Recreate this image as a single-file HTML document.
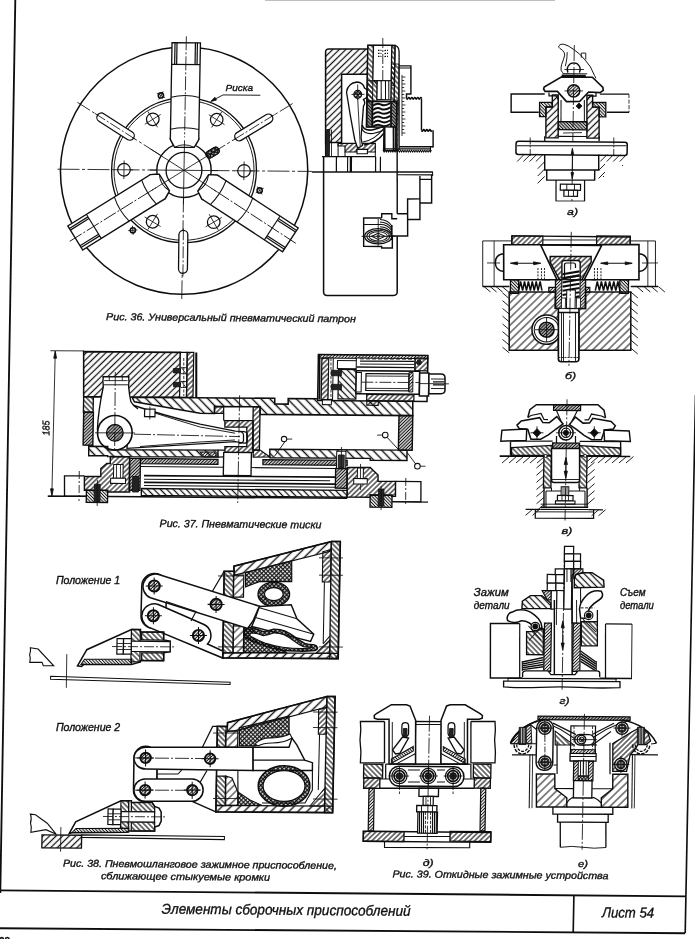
<!DOCTYPE html>
<html><head><meta charset="utf-8"><title>Лист 54</title>
<style>html,body{margin:0;padding:0;background:#fff}body{width:695px;height:939px;overflow:hidden}svg{display:block;font-family:"Liberation Sans",sans-serif;filter:url(#blur)}text{fill:#111;stroke:#111;stroke-width:0.35px}</style>
</head><body>
<svg width="695" height="939" viewBox="0 0 695 939">
<filter id="blur" x="0" y="0" width="100%" height="100%"><feGaussianBlur stdDeviation="0.42"/></filter>
<rect width="695" height="939" fill="#fff"/>
<defs>
<pattern id="h6" width="6.3" height="6.3" patternUnits="userSpaceOnUse" patternTransform="rotate(-45)"><line x1="0" y1="3.15" x2="6.3" y2="3.15" stroke="#111" stroke-width="1.4"/></pattern>
<pattern id="h6b" width="6.3" height="6.3" patternUnits="userSpaceOnUse" patternTransform="rotate(45)"><line x1="0" y1="3.15" x2="6.3" y2="3.15" stroke="#111" stroke-width="1.4"/></pattern>
<pattern id="h5" width="5.4" height="5.4" patternUnits="userSpaceOnUse" patternTransform="rotate(-45)"><line x1="0" y1="2.7" x2="5.4" y2="2.7" stroke="#111" stroke-width="1.0"/></pattern>
<pattern id="h5b" width="5.4" height="5.4" patternUnits="userSpaceOnUse" patternTransform="rotate(45)"><line x1="0" y1="2.7" x2="5.4" y2="2.7" stroke="#111" stroke-width="1.0"/></pattern>
<pattern id="h4" width="4.6" height="4.6" patternUnits="userSpaceOnUse" patternTransform="rotate(-45)"><line x1="0" y1="2.3" x2="4.6" y2="2.3" stroke="#111" stroke-width="1.25"/></pattern>
<pattern id="h4b" width="4.6" height="4.6" patternUnits="userSpaceOnUse" patternTransform="rotate(45)"><line x1="0" y1="2.3" x2="4.6" y2="2.3" stroke="#111" stroke-width="1.25"/></pattern>
<pattern id="h3" width="3.6" height="3.6" patternUnits="userSpaceOnUse" patternTransform="rotate(-45)"><line x1="0" y1="1.8" x2="3.6" y2="1.8" stroke="#111" stroke-width="1.15"/></pattern>
<pattern id="h3b" width="3.6" height="3.6" patternUnits="userSpaceOnUse" patternTransform="rotate(45)"><line x1="0" y1="1.8" x2="3.6" y2="1.8" stroke="#111" stroke-width="1.15"/></pattern>
<pattern id="h2" width="2.3" height="2.3" patternUnits="userSpaceOnUse" patternTransform="rotate(-45)"><line x1="0" y1="1.15" x2="2.3" y2="1.15" stroke="#111" stroke-width="1.0"/></pattern>
<pattern id="h2b" width="2.3" height="2.3" patternUnits="userSpaceOnUse" patternTransform="rotate(45)"><line x1="0" y1="1.15" x2="2.3" y2="1.15" stroke="#111" stroke-width="1.0"/></pattern>
<pattern id="xh" width="3" height="3" patternUnits="userSpaceOnUse" patternTransform="rotate(45)"><path d="M0 1.5H3M1.5 0V3" stroke="#111" stroke-width="1.3"/></pattern>
</defs>
<line x1="15.3" y1="0.0" x2="0.3" y2="893.0" stroke="#111" stroke-width="1.85"/>
<line x1="695.5" y1="395.0" x2="685.2" y2="933.0" stroke="#111" stroke-width="1.65"/>
<line x1="0.0" y1="890.3" x2="686.0" y2="896.3" stroke="#111" stroke-width="1.85"/>
<line x1="0.0" y1="928.2" x2="685.2" y2="933.2" stroke="#111" stroke-width="1.85"/>
<line x1="573.9" y1="895.3" x2="573.2" y2="932.4" stroke="#111" stroke-width="1.65"/>
<line x1="265.0" y1="0.4" x2="555.0" y2="0.4" stroke="#aaa" stroke-width="0.85"/>
<text x="161.6" y="913.7" font-size="14.5" font-style="italic" font-weight="normal" text-anchor="start" textLength="249.0" lengthAdjust="spacingAndGlyphs" transform="rotate(0.5 161.6 913.7)">Элементы  сборочных  приспособлений</text>
<text x="602.0" y="917.3" font-size="14.5" font-style="italic" font-weight="normal" text-anchor="start" textLength="52.0" lengthAdjust="spacingAndGlyphs" transform="rotate(0.5 602.0 917.3)">Лист 54</text>
<text x="-1.0" y="944.5" font-size="10" font-style="normal" font-weight="bold" text-anchor="start">28</text>
<text x="106.1" y="320.1" font-size="10" font-style="italic" font-weight="normal" text-anchor="start" textLength="249.8" lengthAdjust="spacingAndGlyphs" transform="rotate(0.5 106.1 320.1)">Рис. 36.  Универсальный  пневматический  патрон</text>
<text x="159.6" y="527.0" font-size="10.5" font-style="italic" font-weight="normal" text-anchor="start" textLength="161.7" lengthAdjust="spacingAndGlyphs" transform="rotate(0.5 159.6 527.0)">Рис. 37.  Пневматические  тиски</text>
<text x="62.9" y="866.6" font-size="10" font-style="italic" font-weight="normal" text-anchor="start" textLength="274.0" lengthAdjust="spacingAndGlyphs" transform="rotate(0.5 62.9 866.6)">Рис. 38.  Пневмошланговое  зажимное  приспособление,</text>
<text x="100.9" y="879.3" font-size="10" font-style="italic" font-weight="normal" text-anchor="start" textLength="169.2" lengthAdjust="spacingAndGlyphs" transform="rotate(0.5 100.9 879.3)">сближающее  стыкуемые  кромки</text>
<text x="392.4" y="877.3" font-size="10" font-style="italic" font-weight="normal" text-anchor="start" textLength="216.0" lengthAdjust="spacingAndGlyphs" transform="rotate(0.5 392.4 877.3)">Рис. 39.  Откидные  зажимные  устройства</text>
<text x="422.7" y="865.5" font-size="9.6" font-style="italic" font-weight="normal" text-anchor="start" textLength="11.0" lengthAdjust="spacingAndGlyphs">д)</text>
<text x="578.0" y="866.6" font-size="9.6" font-style="italic" font-weight="normal" text-anchor="start" textLength="10.0" lengthAdjust="spacingAndGlyphs">е)</text>
<text x="559.6" y="703.7" font-size="9.6" font-style="italic" font-weight="normal" text-anchor="start" textLength="10.0" lengthAdjust="spacingAndGlyphs">г)</text>
<text x="567.0" y="214.8" font-size="9.6" font-style="italic" font-weight="normal" text-anchor="start" textLength="11.0" lengthAdjust="spacingAndGlyphs">а)</text>
<text x="565.0" y="378.6" font-size="9.6" font-style="italic" font-weight="normal" text-anchor="start" textLength="11.0" lengthAdjust="spacingAndGlyphs">б)</text>
<text x="561.4" y="533.6" font-size="9.6" font-style="italic" font-weight="normal" text-anchor="start" textLength="11.0" lengthAdjust="spacingAndGlyphs">в)</text>
<text x="55.9" y="584.4" font-size="10" font-style="italic" font-weight="normal" text-anchor="start" textLength="64.3" lengthAdjust="spacingAndGlyphs">Положение 1</text>
<text x="55.9" y="731.0" font-size="10" font-style="italic" font-weight="normal" text-anchor="start" textLength="64.3" lengthAdjust="spacingAndGlyphs">Положение 2</text>
<text x="473.8" y="596.4" font-size="10" font-style="italic" font-weight="normal" text-anchor="start" textLength="34.8" lengthAdjust="spacingAndGlyphs">Зажим</text>
<text x="473.8" y="609.2" font-size="10" font-style="italic" font-weight="normal" text-anchor="start" textLength="35.8" lengthAdjust="spacingAndGlyphs">детали</text>
<text x="619.9" y="596.4" font-size="10" font-style="italic" font-weight="normal" text-anchor="start" textLength="25.6" lengthAdjust="spacingAndGlyphs">Съем</text>
<text x="619.9" y="609.2" font-size="10" font-style="italic" font-weight="normal" text-anchor="start" textLength="34.0" lengthAdjust="spacingAndGlyphs">детали</text>
<text x="225.6" y="91.4" font-size="9.5" font-style="italic" font-weight="normal" text-anchor="start" textLength="27.5" lengthAdjust="spacingAndGlyphs">Риска</text>
<text x="49.6" y="435.6" font-size="10" font-style="italic" font-weight="normal" text-anchor="start" textLength="15.0" lengthAdjust="spacingAndGlyphs" transform="rotate(-91 49.6 435.6)">185</text>
<g transform="translate(184.0 170.3) matrix(1 0.0088 -0.0175 1 0 0) translate(-184.0 -170.3)">
<circle cx="184.1" cy="170.7" r="123.6" fill="none" stroke="#111" stroke-width="1.54"/>
<circle cx="184.0" cy="170.3" r="72.4" fill="none" stroke="#111" stroke-width="1.34"/>
<circle cx="184.0" cy="170.3" r="70.0" fill="none" stroke="#111" stroke-width="0.93"/>
<line x1="57.5" y1="170.3" x2="312.0" y2="170.3" stroke="#111" stroke-width="0.85" stroke-dasharray="22 2.5 3 2.5"/>
<line x1="184.0" y1="190.3" x2="184.0" y2="299.0" stroke="#111" stroke-width="0.85" stroke-dasharray="22 2.5 3 2.5"/>
<line x1="184.0" y1="170.3" x2="291.5" y2="102.6" stroke="#111" stroke-width="0.85" stroke-dasharray="20 2.5 3 2.5"/>
<line x1="184.0" y1="170.3" x2="76.2" y2="103.2" stroke="#111" stroke-width="0.85" stroke-dasharray="20 2.5 3 2.5"/>
<line x1="238.6" y1="135.9" x2="267.4" y2="117.8" stroke="#111" stroke-width="10.2" stroke-linecap="round"/>
<line x1="238.6" y1="135.9" x2="267.4" y2="117.8" stroke="#fff" stroke-width="7.6" stroke-linecap="round"/>
<line x1="233.1" y1="139.4" x2="275.4" y2="112.7" stroke="#111" stroke-width="0.85" stroke-dasharray="12 2 2 2"/>
<line x1="129.2" y1="136.2" x2="100.4" y2="118.2" stroke="#111" stroke-width="10.2" stroke-linecap="round"/>
<line x1="129.2" y1="136.2" x2="100.4" y2="118.2" stroke="#fff" stroke-width="7.6" stroke-linecap="round"/>
<line x1="134.8" y1="139.7" x2="92.3" y2="113.2" stroke="#111" stroke-width="0.85" stroke-dasharray="12 2 2 2"/>
<line x1="184.5" y1="234.8" x2="184.7" y2="268.8" stroke="#111" stroke-width="10.2" stroke-linecap="round"/>
<line x1="184.5" y1="234.8" x2="184.7" y2="268.8" stroke="#fff" stroke-width="7.6" stroke-linecap="round"/>
<line x1="184.4" y1="228.3" x2="184.8" y2="278.3" stroke="#111" stroke-width="0.85" stroke-dasharray="12 2 2 2"/>
<circle cx="244.0" cy="170.3" r="6.3" fill="#fff" stroke="#111" stroke-width="1.24"/>
<line x1="253.3" y1="170.3" x2="234.7" y2="170.3" stroke="#111" stroke-width="0.85"/>
<line x1="244.0" y1="161.0" x2="244.0" y2="179.6" stroke="#111" stroke-width="0.85"/>
<circle cx="215.8" cy="119.4" r="6.3" fill="#fff" stroke="#111" stroke-width="1.24"/>
<line x1="220.7" y1="111.5" x2="210.9" y2="127.3" stroke="#111" stroke-width="0.85"/>
<line x1="207.9" y1="114.5" x2="223.7" y2="124.3" stroke="#111" stroke-width="0.85"/>
<circle cx="151.9" cy="119.6" r="6.3" fill="#fff" stroke="#111" stroke-width="1.24"/>
<line x1="146.9" y1="111.8" x2="156.8" y2="127.5" stroke="#111" stroke-width="0.85"/>
<line x1="144.0" y1="124.6" x2="159.7" y2="114.7" stroke="#111" stroke-width="0.85"/>
<circle cx="124.0" cy="170.3" r="6.3" fill="#fff" stroke="#111" stroke-width="1.24"/>
<line x1="114.7" y1="170.3" x2="133.3" y2="170.3" stroke="#111" stroke-width="0.85"/>
<line x1="124.0" y1="179.6" x2="124.0" y2="161.0" stroke="#111" stroke-width="0.85"/>
<circle cx="153.5" cy="222.0" r="6.3" fill="#fff" stroke="#111" stroke-width="1.24"/>
<line x1="148.8" y1="230.0" x2="158.3" y2="214.0" stroke="#111" stroke-width="0.85"/>
<line x1="161.6" y1="226.7" x2="145.5" y2="217.3" stroke="#111" stroke-width="0.85"/>
<circle cx="214.6" cy="221.9" r="6.3" fill="#fff" stroke="#111" stroke-width="1.24"/>
<line x1="219.4" y1="229.9" x2="209.9" y2="213.9" stroke="#111" stroke-width="0.85"/>
<line x1="222.6" y1="217.1" x2="206.6" y2="226.6" stroke="#111" stroke-width="0.85"/>
<circle cx="159.6" cy="95.7" r="2.6" fill="none" stroke="#111" stroke-width="1.54"/>
<line x1="155.5" y1="93.6" x2="163.7" y2="97.8" stroke="#111" stroke-width="0.85"/>
<line x1="157.5" y1="99.8" x2="161.7" y2="91.6" stroke="#111" stroke-width="0.85"/>
<circle cx="133.9" cy="230.7" r="2.6" fill="none" stroke="#111" stroke-width="1.54"/>
<line x1="134.3" y1="235.3" x2="133.4" y2="226.1" stroke="#111" stroke-width="0.85"/>
<line x1="138.4" y1="230.3" x2="129.3" y2="231.1" stroke="#111" stroke-width="0.85"/>
<circle cx="260.0" cy="189.8" r="2.6" fill="none" stroke="#111" stroke-width="1.54"/>
<line x1="264.0" y1="187.5" x2="256.1" y2="192.2" stroke="#111" stroke-width="0.85"/>
<line x1="257.7" y1="185.9" x2="262.4" y2="193.8" stroke="#111" stroke-width="0.85"/>
<g transform="rotate(0 184.0 170.3)">
<polygon points="169.8,42.7 198.2,42.7 198.2,139.5 193.8,147.3 174.2,147.3 169.8,139.5" fill="#fff" stroke="#111" stroke-width="1.34" stroke-linejoin="miter"/>
<line x1="169.8" y1="64.5" x2="198.2" y2="64.5" stroke="#111" stroke-width="1.13"/>
<line x1="172.8" y1="42.7" x2="172.8" y2="64.5" stroke="#111" stroke-width="1.24"/>
<line x1="195.2" y1="42.7" x2="195.2" y2="64.5" stroke="#111" stroke-width="1.24"/>
<line x1="174.8" y1="42.7" x2="174.8" y2="64.5" stroke="#111" stroke-width="1.24"/>
<line x1="193.2" y1="42.7" x2="193.2" y2="64.5" stroke="#111" stroke-width="1.24"/>
<path d="M169.8 97.3 Q184.0 93.8 198.2 97.3" fill="none" stroke="#111" stroke-width="1.03" />
<path d="M169.8 129.3 Q184.0 126.3 198.2 129.3" fill="none" stroke="#111" stroke-width="1.03" />
<path d="M174.2 147.3 Q184.0 141.8 193.8 147.3" fill="none" stroke="#111" stroke-width="0.93" />
<line x1="184.0" y1="36.3" x2="184.0" y2="150.3" stroke="#111" stroke-width="0.85" stroke-dasharray="14 2 2 2"/>
</g>
<g transform="rotate(-122.5 184.0 170.3)">
<polygon points="169.8,42.7 198.2,42.7 198.2,139.5 193.8,147.3 174.2,147.3 169.8,139.5" fill="#fff" stroke="#111" stroke-width="1.34" stroke-linejoin="miter"/>
<line x1="169.8" y1="64.5" x2="198.2" y2="64.5" stroke="#111" stroke-width="1.13"/>
<line x1="172.8" y1="42.7" x2="172.8" y2="64.5" stroke="#111" stroke-width="1.24"/>
<line x1="195.2" y1="42.7" x2="195.2" y2="64.5" stroke="#111" stroke-width="1.24"/>
<line x1="174.8" y1="42.7" x2="174.8" y2="64.5" stroke="#111" stroke-width="1.24"/>
<line x1="193.2" y1="42.7" x2="193.2" y2="64.5" stroke="#111" stroke-width="1.24"/>
<path d="M169.8 97.3 Q184.0 93.8 198.2 97.3" fill="none" stroke="#111" stroke-width="1.03" />
<path d="M169.8 129.3 Q184.0 126.3 198.2 129.3" fill="none" stroke="#111" stroke-width="1.03" />
<path d="M174.2 147.3 Q184.0 141.8 193.8 147.3" fill="none" stroke="#111" stroke-width="0.93" />
<line x1="184.0" y1="36.3" x2="184.0" y2="150.3" stroke="#111" stroke-width="0.85" stroke-dasharray="14 2 2 2"/>
</g>
<g transform="rotate(-237.5 184.0 170.3)">
<polygon points="169.8,42.7 198.2,42.7 198.2,139.5 193.8,147.3 174.2,147.3 169.8,139.5" fill="#fff" stroke="#111" stroke-width="1.34" stroke-linejoin="miter"/>
<line x1="169.8" y1="64.5" x2="198.2" y2="64.5" stroke="#111" stroke-width="1.13"/>
<line x1="172.8" y1="42.7" x2="172.8" y2="64.5" stroke="#111" stroke-width="1.24"/>
<line x1="195.2" y1="42.7" x2="195.2" y2="64.5" stroke="#111" stroke-width="1.24"/>
<line x1="174.8" y1="42.7" x2="174.8" y2="64.5" stroke="#111" stroke-width="1.24"/>
<line x1="193.2" y1="42.7" x2="193.2" y2="64.5" stroke="#111" stroke-width="1.24"/>
<path d="M169.8 97.3 Q184.0 93.8 198.2 97.3" fill="none" stroke="#111" stroke-width="1.03" />
<path d="M169.8 129.3 Q184.0 126.3 198.2 129.3" fill="none" stroke="#111" stroke-width="1.03" />
<path d="M174.2 147.3 Q184.0 141.8 193.8 147.3" fill="none" stroke="#111" stroke-width="0.93" />
<line x1="184.0" y1="36.3" x2="184.0" y2="150.3" stroke="#111" stroke-width="0.85" stroke-dasharray="14 2 2 2"/>
</g>
<circle cx="184.0" cy="170.3" r="27.2" fill="#fff" stroke="#111" stroke-width="1.44"/>
<circle cx="184.0" cy="170.3" r="17.9" fill="none" stroke="#111" stroke-width="1.34"/>
<g transform="rotate(0 184.0 170.3)">
<polyline points="169.8,137.3 169.8,139.5 174.2,147.3 193.8,147.3 198.2,139.5 198.2,137.3" fill="#fff" stroke="#111" stroke-width="1.34" stroke-linejoin="miter"/>
<path d="M174.2 147.3 Q184.0 142.3 193.8 147.3" fill="none" stroke="#111" stroke-width="0.93" />
</g>
<g transform="rotate(-122.5 184.0 170.3)">
<polyline points="169.8,137.3 169.8,139.5 174.2,147.3 193.8,147.3 198.2,139.5 198.2,137.3" fill="#fff" stroke="#111" stroke-width="1.34" stroke-linejoin="miter"/>
<path d="M174.2 147.3 Q184.0 142.3 193.8 147.3" fill="none" stroke="#111" stroke-width="0.93" />
</g>
<g transform="rotate(-237.5 184.0 170.3)">
<polyline points="169.8,137.3 169.8,139.5 174.2,147.3 193.8,147.3 198.2,139.5 198.2,137.3" fill="#fff" stroke="#111" stroke-width="1.34" stroke-linejoin="miter"/>
<path d="M174.2 147.3 Q184.0 142.3 193.8 147.3" fill="none" stroke="#111" stroke-width="0.93" />
</g>
<line x1="150.0" y1="170.3" x2="218.0" y2="170.3" stroke="#111" stroke-width="0.85"/>
<line x1="184.0" y1="140.3" x2="184.0" y2="204.3" stroke="#111" stroke-width="0.85"/>
<line x1="184.0" y1="170.3" x2="217.8" y2="149.0" stroke="#111" stroke-width="0.85"/>
<line x1="184.0" y1="170.3" x2="150.0" y2="149.2" stroke="#111" stroke-width="0.85"/>
<line x1="184.0" y1="170.3" x2="150.3" y2="191.8" stroke="#111" stroke-width="0.85"/>
<line x1="184.0" y1="170.3" x2="217.7" y2="191.8" stroke="#111" stroke-width="0.85"/>
<g transform="rotate(-32.2 212.3 152.4)">
<rect x="205.3" y="148.8" width="14.0" height="7.2" rx="3.4" fill="url(#xh)" stroke="#111" stroke-width="1.03"/>
<rect x="205.3" y="148.8" width="14.0" height="7.2" rx="3.4" fill="rgba(0,0,0,0.25)" stroke="#111" stroke-width="1.03"/>
</g>
<polyline points="210.2,100.8 221.7,94.6 259.0,94.6" fill="none" stroke="#111" stroke-width="0.93" stroke-linejoin="miter"/>
<polygon points="209.6,101.2 215.2,99.8 213.6,97.0" fill="#111" stroke="#111" stroke-width="0.85" stroke-linejoin="miter"/>
</g>
<g transform="translate(380 170) matrix(1 0.0088 -0.0175 1 0 0) translate(-380 -170)">
<path d="M341.13 142.94 L325.13 143.08 L323.54 52.50 Q323.49 49.40 326.69 49.37 L365.68 49.03 L366.13 74.32 L339.93 74.55 Z" fill="url(#h4)" stroke="#111" stroke-width="1.54" />
<path d="M323.38 157.20 L325.74 292.48 Q325.80 295.88 329.20 295.85 L395.79 295.26 Q399.39 295.23 399.33 291.83 L398.35 235.84" fill="none" stroke="#111" stroke-width="1.54" />
<line x1="398.0" y1="213.5" x2="396.8" y2="149.9" stroke="#111" stroke-width="1.44"/>
<line x1="325.1" y1="143.1" x2="325.4" y2="157.2" stroke="#111" stroke-width="1.34"/>
<line x1="312.0" y1="172.6" x2="433.0" y2="171.5" stroke="#111" stroke-width="1.34"/>
<line x1="397.3" y1="174.6" x2="433.1" y2="174.3" stroke="#111" stroke-width="1.24"/>
<line x1="321.8" y1="157.2" x2="375.4" y2="156.7" stroke="#111" stroke-width="1.34"/>
<line x1="336.2" y1="157.1" x2="336.4" y2="172.4" stroke="#111" stroke-width="1.24"/>
<line x1="347.4" y1="157.0" x2="347.6" y2="172.3" stroke="#111" stroke-width="1.13"/>
<line x1="350.7" y1="157.0" x2="350.9" y2="172.3" stroke="#111" stroke-width="2.27"/>
<line x1="375.4" y1="156.7" x2="375.6" y2="172.0" stroke="#111" stroke-width="1.24"/>
<line x1="380.2" y1="156.7" x2="380.4" y2="172.0" stroke="#111" stroke-width="1.24"/>
<rect x="325.9" y="130.0" width="3.2" height="27.0" rx="0" fill="#222" stroke="#111" stroke-width="0.85"/>
<line x1="330.8" y1="129.9" x2="331.3" y2="157.1" stroke="#111" stroke-width="0.85"/>
<path d="M337.64 143.77 L374.84 143.45 L374.99 152.04 L367.19 152.11 L367.14 149.51 L356.74 149.60 L356.79 152.20 L344.69 152.31 L344.59 146.31 L337.69 146.37 Z" fill="url(#h3)" stroke="#111" stroke-width="1.24" />
<rect x="356.7" y="149.6" width="10.4" height="4.3" rx="0" fill="#fff" stroke="#111" stroke-width="1.13"/>
<line x1="344.7" y1="152.3" x2="344.8" y2="157.0" stroke="#111" stroke-width="1.03"/>
<line x1="375.0" y1="152.0" x2="375.1" y2="156.7" stroke="#111" stroke-width="1.03"/>
<line x1="337.6" y1="143.8" x2="337.9" y2="157.1" stroke="#111" stroke-width="1.03"/>
<path d="M345.14 92.31 Q346.48 83.29 355.46 82.22 Q361.47 82.66 363.07 88.15 L366.10 90.12 L366.22 97.12 L362.27 99.66 Q364.83 103.13 362.38 106.16 L360.44 138.17 L362.07 145.66 L357.22 148.20 L354.28 140.23 Q349.04 115.27 345.14 92.31 Z" fill="#fff" stroke="#111" stroke-width="1.34" />
<circle cx="356.4" cy="94.6" r="3.9" fill="url(#xh)" stroke="#111" stroke-width="1.24"/>
<line x1="350.2" y1="94.7" x2="363.2" y2="94.5" stroke="#111" stroke-width="0.85"/>
<line x1="356.2" y1="84.7" x2="356.5" y2="100.2" stroke="#111" stroke-width="0.85"/>
<line x1="356.4" y1="98.2" x2="359.8" y2="146.2" stroke="#111" stroke-width="0.85"/>
<path d="M361.22 125.17 Q363.32 131.15 371.30 130.08 Q379.27 128.01 383.23 125.97" fill="none" stroke="#111" stroke-width="1.65" />
<path d="M360.77 128.17 Q363.38 134.65 372.36 133.57 Q379.34 132.01 383.30 129.97" fill="none" stroke="#111" stroke-width="1.03" />
<path d="M362.51 142.15 Q374.48 140.05 383.26 127.97" fill="none" stroke="#111" stroke-width="1.03" />
<path d="M363.57 145.14 Q376.53 143.03 383.35 132.97" fill="none" stroke="#111" stroke-width="1.44" />
<rect x="365.6" y="45.4" width="27.3" height="56.0" rx="0" fill="#fff" stroke="#111" stroke-width="1.44"/>
<rect x="365.6" y="45.4" width="5.7" height="56.0" rx="0" fill="url(#h3b)" stroke="#111" stroke-width="0.93"/>
<rect x="389.6" y="45.2" width="3.3" height="40.0" rx="0" fill="url(#h3b)" stroke="#111" stroke-width="0.93"/>
<rect x="371.3" y="45.4" width="18.3" height="35.3" rx="0" fill="#fff" stroke="#111" stroke-width="1.24"/>
<path d="M371.94 80.67 L375.80 84.54 L376.07 99.73" fill="none" stroke="#111" stroke-width="1.13" />
<rect x="366.2" y="80.7" width="9.5" height="21.0" rx="0" fill="url(#h3b)" stroke="#111" stroke-width="0.85"/>
<rect x="375.7" y="80.6" width="14.0" height="19.1" rx="0" fill="#fff" stroke="#111" stroke-width="1.13"/>
<line x1="379.6" y1="80.6" x2="380.0" y2="99.7" stroke="#111" stroke-width="1.03"/>
<line x1="383.9" y1="80.6" x2="384.3" y2="99.7" stroke="#111" stroke-width="1.03"/>
<line x1="387.2" y1="80.5" x2="387.6" y2="99.6" stroke="#111" stroke-width="1.03"/>
<line x1="375.9" y1="50.5" x2="379.4" y2="50.5" stroke="#111" stroke-width="1.24" stroke-dasharray="1.5 1"/>
<line x1="382.4" y1="50.5" x2="385.9" y2="50.4" stroke="#111" stroke-width="1.24" stroke-dasharray="1.5 1"/>
<line x1="376.0" y1="53.5" x2="379.5" y2="53.5" stroke="#111" stroke-width="1.24" stroke-dasharray="1.5 1"/>
<line x1="382.5" y1="53.5" x2="386.0" y2="53.4" stroke="#111" stroke-width="1.24" stroke-dasharray="1.5 1"/>
<line x1="376.0" y1="56.5" x2="379.5" y2="56.5" stroke="#111" stroke-width="1.24" stroke-dasharray="1.5 1"/>
<line x1="382.5" y1="56.5" x2="386.0" y2="56.4" stroke="#111" stroke-width="1.24" stroke-dasharray="1.5 1"/>
<line x1="380.5" y1="38.0" x2="381.2" y2="80.0" stroke="#111" stroke-width="0.85" stroke-dasharray="10 2 2 2"/>
<path d="M392.92 45.19 Q396.94 46.35 397.03 51.85 L398.75 149.84" fill="none" stroke="#111" stroke-width="1.34" />
<rect x="389.7" y="63.9" width="7.5" height="86.0" rx="0" fill="url(#h3b)" stroke="#111" stroke-width="0.85"/>
<rect x="392.0" y="99.9" width="4.2" height="50.0" rx="0" fill="rgba(0,0,0,0.35)" stroke="#111" stroke-width="0.85"/>
<rect x="365.6" y="101.6" width="30.0" height="25.5" rx="0" fill="#fff" stroke="#111" stroke-width="1.44"/>
<rect x="366.3" y="101.6" width="4.6" height="25.5" rx="0" fill="url(#h2b)" stroke="#111" stroke-width="0.85"/>
<rect x="366.3" y="101.6" width="4.6" height="25.5" rx="0" fill="rgba(0,0,0,0.35)" stroke="#111" stroke-width="0.00"/>
<rect x="390.4" y="101.4" width="5.2" height="25.5" rx="0" fill="url(#h2b)" stroke="#111" stroke-width="0.85"/>
<rect x="390.4" y="101.4" width="5.2" height="25.5" rx="0" fill="rgba(0,0,0,0.35)" stroke="#111" stroke-width="0.00"/>
<path d="M371.88 105.87 Q375.82 102.34 379.85 104.50 Q383.89 106.47 389.33 102.92" fill="none" stroke="#111" stroke-width="1.96" />
<path d="M371.95 110.17 Q375.89 106.64 379.93 108.80 Q383.96 110.77 389.40 107.22" fill="none" stroke="#111" stroke-width="1.96" />
<path d="M372.03 114.47 Q375.97 110.94 380.00 113.10 Q384.04 115.06 389.48 111.52" fill="none" stroke="#111" stroke-width="1.96" />
<path d="M372.10 118.77 Q376.04 115.23 380.08 117.40 Q384.11 119.36 389.55 115.82" fill="none" stroke="#111" stroke-width="1.96" />
<path d="M372.18 123.07 Q376.12 119.53 380.15 121.70 Q384.19 123.66 389.63 120.12" fill="none" stroke="#111" stroke-width="1.96" />
<path d="M372.25 126.87 Q376.18 123.33 380.22 125.50 Q384.26 127.46 389.69 123.91" fill="none" stroke="#111" stroke-width="1.96" />
<line x1="371.4" y1="102.1" x2="371.8" y2="127.1" stroke="#111" stroke-width="1.65"/>
<line x1="389.8" y1="101.9" x2="390.2" y2="126.9" stroke="#111" stroke-width="1.65"/>
<rect x="383.1" y="127.0" width="12.5" height="23.5" rx="0" fill="#fff" stroke="#111" stroke-width="1.03"/>
<line x1="383.8" y1="127.0" x2="384.3" y2="150.5" stroke="#111" stroke-width="1.85"/>
<line x1="392.8" y1="126.9" x2="393.3" y2="150.4" stroke="#111" stroke-width="1.85"/>
<line x1="395.2" y1="126.9" x2="395.7" y2="150.4" stroke="#111" stroke-width="1.85"/>
<path d="M397.28 65.75 L409.07 65.64 L409.57 93.74 L405.17 93.78 L405.24 98.08" fill="none" stroke="#111" stroke-width="1.44" />
<line x1="397.3" y1="67.8" x2="409.1" y2="67.7" stroke="#111" stroke-width="1.03"/>
<line x1="400.3" y1="74.8" x2="401.4" y2="135.8" stroke="#111" stroke-width="0.85"/>
<line x1="400.4" y1="76.8" x2="403.8" y2="76.8" stroke="#111" stroke-width="0.85"/>
<line x1="400.4" y1="80.3" x2="402.6" y2="80.3" stroke="#111" stroke-width="0.85"/>
<line x1="400.5" y1="83.8" x2="403.9" y2="83.8" stroke="#111" stroke-width="0.85"/>
<line x1="400.6" y1="87.3" x2="402.8" y2="87.3" stroke="#111" stroke-width="0.85"/>
<line x1="400.6" y1="90.8" x2="404.0" y2="90.8" stroke="#111" stroke-width="0.85"/>
<line x1="400.7" y1="94.3" x2="402.9" y2="94.3" stroke="#111" stroke-width="0.85"/>
<line x1="400.7" y1="97.8" x2="404.1" y2="97.8" stroke="#111" stroke-width="0.85"/>
<line x1="400.8" y1="101.3" x2="403.0" y2="101.3" stroke="#111" stroke-width="0.85"/>
<line x1="400.9" y1="104.8" x2="404.3" y2="104.8" stroke="#111" stroke-width="0.85"/>
<line x1="400.9" y1="108.3" x2="403.1" y2="108.3" stroke="#111" stroke-width="0.85"/>
<line x1="401.0" y1="111.8" x2="404.4" y2="111.8" stroke="#111" stroke-width="0.85"/>
<line x1="401.0" y1="115.3" x2="403.2" y2="115.3" stroke="#111" stroke-width="0.85"/>
<line x1="401.1" y1="118.8" x2="404.5" y2="118.8" stroke="#111" stroke-width="0.85"/>
<line x1="401.2" y1="122.3" x2="403.4" y2="122.3" stroke="#111" stroke-width="0.85"/>
<line x1="401.2" y1="125.8" x2="404.6" y2="125.8" stroke="#111" stroke-width="0.85"/>
<line x1="401.3" y1="129.3" x2="403.5" y2="129.3" stroke="#111" stroke-width="0.85"/>
<line x1="401.3" y1="132.8" x2="404.7" y2="132.8" stroke="#111" stroke-width="0.85"/>
<path d="M405.24 98.08 Q405.97 99.87 406.74 98.06 Q407.51 96.26 408.24 98.05 Q408.97 99.85 409.74 98.04 Q410.51 96.23 411.24 98.03 Q411.97 99.82 412.74 98.01 Q413.51 96.21 414.24 98.00 Q414.97 99.79 415.74 97.99 Q416.51 96.18 417.24 97.97 Q417.97 99.77 418.74 97.96 Q419.51 96.15 420.24 97.95" fill="none" stroke="#111" stroke-width="1.54" />
<line x1="420.2" y1="97.9" x2="420.8" y2="130.0" stroke="#111" stroke-width="1.44"/>
<path d="M420.80 130.04 Q421.53 131.83 422.30 130.03 Q423.07 128.22 423.80 130.01 Q424.53 131.81 425.30 130.00 Q426.07 128.19 426.80 129.99 Q427.53 131.78 428.30 129.97 Q429.07 128.17 429.80 129.96 Q430.53 131.76 431.30 129.95" fill="none" stroke="#111" stroke-width="1.54" />
<line x1="432.4" y1="129.9" x2="432.7" y2="147.0" stroke="#111" stroke-width="1.44"/>
<line x1="398.7" y1="146.6" x2="432.7" y2="146.3" stroke="#111" stroke-width="1.34"/>
<path d="M382.65 150.18 L383.78 151.97 L384.85 150.16 L385.98 151.95 L387.05 150.14 L388.18 151.93 L389.25 150.12 L390.38 151.91 L391.45 150.10 L392.58 151.89 L393.65 150.08 L394.78 151.87 L395.85 150.06 L396.98 151.85 L398.05 150.04 L399.18 151.83 L400.25 150.02 L401.38 151.81 L402.45 150.00 L403.58 151.79 L404.65 149.98 L405.78 151.77 L406.85 149.96 L407.98 151.75 L409.05 149.94 L410.18 151.73 L411.25 149.93 L412.38 151.72 L413.45 149.91 L414.58 151.70 L415.65 149.89 L416.78 151.68 L417.85 149.87 L418.98 151.66 L420.05 149.85 L421.18 151.64 L422.25 149.83 L423.38 151.62 L424.45 149.81 L425.58 151.60 L426.65 149.79 L427.78 151.58 L428.85 149.77 L429.98 151.56 L431.05 149.75" fill="none" stroke="#111" stroke-width="1.03" />
<line x1="382.6" y1="148.8" x2="430.1" y2="148.4" stroke="#111" stroke-width="1.34"/>
<line x1="430.1" y1="146.6" x2="430.2" y2="150.6" stroke="#111" stroke-width="1.03"/>
<polyline points="431.7,174.3 432.2,202.5 420.5,202.6" fill="none" stroke="#111" stroke-width="1.44" stroke-linejoin="miter"/>
<polyline points="431.8,178.9 420.1,179.0" fill="none" stroke="#111" stroke-width="1.24" stroke-linejoin="miter"/>
<polyline points="420.0,175.6 420.8,219.1 408.5,219.2" fill="none" stroke="#111" stroke-width="1.44" stroke-linejoin="miter"/>
<polyline points="420.4,198.5 408.1,198.7 408.8,235.7 389.2,235.9" fill="none" stroke="#111" stroke-width="1.44" stroke-linejoin="miter"/>
<line x1="398.0" y1="213.5" x2="408.4" y2="213.5" stroke="#111" stroke-width="1.44"/>
<line x1="432.6" y1="171.5" x2="432.7" y2="175.5" stroke="#111" stroke-width="1.03"/>
<polyline points="382.5,218.0 382.5,213.7 392.6,213.6 392.7,218.7 398.1,218.6" fill="none" stroke="#111" stroke-width="1.44" stroke-linejoin="miter"/>
<polyline points="382.5,218.0 364.5,218.1 365.0,246.5 383.0,246.4 383.1,248.0 393.7,247.9 393.5,235.9" fill="none" stroke="#111" stroke-width="1.44" stroke-linejoin="miter"/>
<line x1="364.7" y1="224.6" x2="382.0" y2="224.5" stroke="#111" stroke-width="1.13"/>
<ellipse cx="379.4" cy="236.3" rx="13.6" ry="7.6" fill="none" stroke="#111" stroke-width="1.34"/>
<ellipse cx="379.4" cy="236.3" rx="11.4" ry="6.0" fill="none" stroke="#111" stroke-width="1.03"/>
<ellipse cx="379.4" cy="236.3" rx="9.2" ry="4.6" fill="none" stroke="#111" stroke-width="1.03"/>
<polygon points="372.7,236.4 379.3,233.2 386.2,236.2 379.4,239.4" fill="none" stroke="#111" stroke-width="1.03" stroke-linejoin="miter"/>
<circle cx="379.4" cy="236.3" r="1.3" fill="none" stroke="#111" stroke-width="0.85"/>
<line x1="362.7" y1="236.5" x2="396.2" y2="236.2" stroke="#111" stroke-width="0.85"/>
<line x1="379.1" y1="219.0" x2="379.5" y2="246.0" stroke="#111" stroke-width="0.85"/>
<path d="M380.87 219.49 Q388.87 219.92 392.47 225.39" fill="none" stroke="#111" stroke-width="1.03" />
<path d="M380.91 221.89 Q388.92 222.32 392.51 227.79" fill="none" stroke="#111" stroke-width="1.03" />
<path d="M380.95 224.29 Q388.96 224.72 392.55 230.19" fill="none" stroke="#111" stroke-width="1.03" />
<path d="M380.99 226.69 Q389.00 227.12 392.60 232.59" fill="none" stroke="#111" stroke-width="1.03" />
<path d="M381.03 229.09 Q389.04 229.52 392.64 234.99" fill="none" stroke="#111" stroke-width="1.03" />
<path d="M392.76 224.89 L393.02 239.89" fill="none" stroke="#111" stroke-width="1.65" />
</g>
<g transform="translate(240 425) matrix(1 0.0088 -0.0175 1 0 0) translate(-240 -425)">
<line x1="49.1" y1="352.4" x2="82.7" y2="352.3" stroke="#111" stroke-width="0.85"/>
<line x1="48.8" y1="497.8" x2="67.3" y2="497.7" stroke="#111" stroke-width="0.85"/>
<line x1="54.0" y1="352.8" x2="53.1" y2="497.4" stroke="#111" stroke-width="0.85"/>
<polygon points="53.1,497.4 54.5,490.5 51.7,490.4" fill="#111" stroke="#111" stroke-width="0.85" stroke-linejoin="miter"/>
<polygon points="54.0,352.8 52.6,359.8 55.4,359.9" fill="#111" stroke="#111" stroke-width="0.85" stroke-linejoin="miter"/>
<polygon points="82.4,353.0 179.1,352.9 179.9,397.9 128.8,398.0 128.0,391.0 126.2,382.0 127.8,377.9 102.5,377.9 104.1,382.2 102.4,391.2 101.2,398.0 83.2,398.1" fill="url(#h4)" stroke="#111" stroke-width="1.54" stroke-linejoin="miter"/>
<rect x="179.1" y="352.9" width="6.9" height="45.0" rx="0" fill="#fff" stroke="#111" stroke-width="1.24"/>
<rect x="186.0" y="352.9" width="6.5" height="45.0" rx="0" fill="url(#h3)" stroke="#111" stroke-width="1.24"/>
<line x1="195.0" y1="352.8" x2="195.8" y2="398.0" stroke="#111" stroke-width="2.06"/>
<rect x="172.5" y="369.1" width="7.0" height="4.4" rx="0" fill="#222" stroke="#111" stroke-width="0.85"/>
<line x1="179.4" y1="368.2" x2="186.3" y2="368.2" stroke="#111" stroke-width="0.85"/>
<line x1="179.5" y1="374.2" x2="186.4" y2="374.2" stroke="#111" stroke-width="0.85"/>
<line x1="180.5" y1="368.2" x2="185.1" y2="374.2" stroke="#111" stroke-width="0.85"/>
<rect x="172.8" y="382.9" width="7.0" height="4.4" rx="0" fill="#222" stroke="#111" stroke-width="0.85"/>
<line x1="179.6" y1="382.0" x2="186.5" y2="382.0" stroke="#111" stroke-width="0.85"/>
<line x1="179.8" y1="388.0" x2="186.7" y2="388.0" stroke="#111" stroke-width="0.85"/>
<line x1="180.7" y1="382.0" x2="185.4" y2="388.0" stroke="#111" stroke-width="0.85"/>
<line x1="182.6" y1="358.5" x2="183.3" y2="396.5" stroke="#111" stroke-width="0.85" stroke-dasharray="3 1.5"/>
<rect x="83.2" y="398.1" width="9.7" height="15.4" rx="0" fill="url(#h3b)" stroke="#111" stroke-width="1.34"/>
<rect x="83.5" y="413.5" width="9.7" height="33.0" rx="0" fill="url(#h2)" stroke="#111" stroke-width="1.44"/>
<rect x="83.5" y="413.5" width="9.7" height="33.0" rx="0" fill="rgba(0,0,0,0.15)" stroke="#111" stroke-width="0.00"/>
<line x1="92.9" y1="398.0" x2="101.2" y2="398.0" stroke="#111" stroke-width="1.34"/>
<polygon points="131.5,398.1 274.3,398.0 274.4,403.7 287.8,403.7 287.7,398.1 412.3,398.0 412.6,414.1 259.9,414.2 259.8,406.6 214.2,406.7 214.3,413.8 199.8,413.7 134.0,402.7" fill="url(#h6b)" stroke="#111" stroke-width="1.54" stroke-linejoin="miter"/>
<rect x="398.8" y="414.1" width="13.8" height="34.6" rx="0" fill="url(#h2)" stroke="#111" stroke-width="1.44"/>
<rect x="398.8" y="414.1" width="13.8" height="34.6" rx="0" fill="rgba(0,0,0,0.12)" stroke="#111" stroke-width="0.00"/>
<path d="M129.15 404.98 Q159.83 415.21 199.99 424.55 L235.31 431.24 L244.12 431.66 Q247.42 431.93 247.47 434.93 L247.56 439.93 Q247.62 443.13 244.32 443.16 L235.49 441.64 L127.43 449.29 Z" fill="#fff" stroke="#111" stroke-width="1.34" />
<line x1="133.2" y1="435.1" x2="240.2" y2="436.6" stroke="#111" stroke-width="0.85" stroke-dasharray="18 2 2 2"/>
<path d="M149.78 412.29 Q174.91 420.07 200.04 427.35 L235.14 433.24" fill="none" stroke="#111" stroke-width="0.93" />
<path d="M140.39 447.38 L200.30 442.35 L235.26 440.04" fill="none" stroke="#111" stroke-width="0.93" />
<path d="M102.48 378.11 L127.78 377.89 Q128.55 381.98 127.95 387.79 Q129.01 396.98 130.51 402.76 Q132.68 406.94 137.75 410.90 L133.28 440.94 L97.14 433.26 Q97.79 413.25 102.65 388.01 Q101.75 382.22 102.48 378.11 Z" fill="#fff" stroke="none" stroke-width="0.00" />
<path d="M97.51 431.25 Q97.79 413.25 102.65 388.01 Q101.75 382.22 102.48 378.11 L127.78 377.89 Q128.55 381.98 127.95 387.79 Q129.01 396.98 130.51 402.76 Q132.68 406.94 137.73 409.70" fill="none" stroke="#111" stroke-width="1.34" />
<line x1="102.9" y1="386.0" x2="127.3" y2="385.8" stroke="#111" stroke-width="0.93"/>
<line x1="103.4" y1="381.8" x2="126.8" y2="381.6" stroke="#111" stroke-width="0.85"/>
<line x1="108.5" y1="378.1" x2="108.6" y2="382.2" stroke="#111" stroke-width="0.85"/>
<line x1="121.5" y1="377.9" x2="121.5" y2="382.0" stroke="#111" stroke-width="0.85"/>
<circle cx="115.0" cy="433.9" r="17.3" fill="#fff" stroke="#111" stroke-width="1.65"/>
<circle cx="115.0" cy="433.9" r="8.3" fill="url(#h2)" stroke="#111" stroke-width="1.34"/>
<circle cx="115.0" cy="433.9" r="8.3" fill="rgba(0,0,0,0.25)" stroke="#111" stroke-width="0.00"/>
<line x1="95.2" y1="434.1" x2="135.2" y2="433.9" stroke="#111" stroke-width="0.85"/>
<line x1="114.4" y1="373.1" x2="115.1" y2="453.1" stroke="#111" stroke-width="0.85" stroke-dasharray="14 2 2 2"/>
<rect x="144.4" y="409.9" width="10.4" height="7.6" rx="0" fill="#fff" stroke="#111" stroke-width="1.24"/>
<line x1="149.6" y1="407.3" x2="149.7" y2="420.3" stroke="#111" stroke-width="0.85"/>
<rect x="252.9" y="406.7" width="6.9" height="43.3" rx="0" fill="url(#h3)" stroke="#111" stroke-width="1.34"/>
<polygon points="253.6,450.0 260.5,449.9 270.4,456.7 253.8,456.9" fill="url(#h3)" stroke="#111" stroke-width="1.24" stroke-linejoin="miter"/>
<rect x="214.2" y="406.7" width="9.2" height="6.8" rx="0" fill="url(#h3)" stroke="#111" stroke-width="1.24"/>
<polygon points="224.8,420.7 253.1,420.5 253.7,452.3 225.4,452.5 225.3,446.7 247.2,446.5 246.8,427.0 224.9,427.2" fill="url(#h3)" stroke="#111" stroke-width="1.34" stroke-linejoin="miter"/>
<line x1="223.5" y1="413.4" x2="223.6" y2="420.7" stroke="#111" stroke-width="1.24"/>
<line x1="223.6" y1="420.7" x2="224.8" y2="420.7" stroke="#111" stroke-width="1.24"/>
<path d="M239.11 431.51 Q243.62 431.97 243.67 434.97 L243.77 440.47 Q243.81 442.97 239.32 443.41" fill="none" stroke="#111" stroke-width="1.24" />
<rect x="224.2" y="452.5" width="27.7" height="23.0" rx="0" fill="#fff" stroke="#111" stroke-width="1.34"/>
<polygon points="89.1,447.5 108.1,447.6 108.2,450.9 218.4,450.3 218.6,457.2 108.3,457.8 108.3,456.9 89.3,457.0" fill="url(#h6b)" stroke="#111" stroke-width="1.44" stroke-linejoin="miter"/>
<polygon points="270.2,449.0 399.4,448.7 407.4,448.7 407.6,459.0 370.8,459.1 370.8,457.2 270.4,457.5" fill="url(#h6b)" stroke="#111" stroke-width="1.44" stroke-linejoin="miter"/>
<polyline points="218.4,450.3 225.3,450.2" fill="none" stroke="#111" stroke-width="1.24" stroke-linejoin="miter"/>
<polyline points="218.6,457.2 224.3,457.1" fill="none" stroke="#111" stroke-width="1.24" stroke-linejoin="miter"/>
<polygon points="200.5,452.3 214.5,452.2 218.6,457.2 204.6,457.3" fill="url(#h2)" stroke="#111" stroke-width="1.03" stroke-linejoin="miter"/>
<circle cx="284.3" cy="438.7" r="2.7" fill="#fff" stroke="#111" stroke-width="1.03"/>
<line x1="285.3" y1="441.1" x2="274.9" y2="456.2" stroke="#111" stroke-width="0.93"/>
<line x1="287.0" y1="438.7" x2="292.5" y2="438.6" stroke="#111" stroke-width="0.85"/>
<circle cx="385.4" cy="433.8" r="2.8" fill="#fff" stroke="#111" stroke-width="1.03"/>
<line x1="387.2" y1="435.9" x2="399.4" y2="448.7" stroke="#111" stroke-width="0.93"/>
<line x1="382.6" y1="433.8" x2="377.3" y2="433.9" stroke="#111" stroke-width="0.85"/>
<circle cx="418.1" cy="464.6" r="2.8" fill="#fff" stroke="#111" stroke-width="1.03"/>
<line x1="416.3" y1="462.4" x2="407.5" y2="450.9" stroke="#111" stroke-width="0.93"/>
<line x1="420.9" y1="464.6" x2="426.2" y2="464.6" stroke="#111" stroke-width="0.85"/>
<rect x="130.2" y="459.3" width="10.9" height="32.0" rx="0" fill="url(#h2)" stroke="#111" stroke-width="1.34"/>
<rect x="130.2" y="459.3" width="10.9" height="32.0" rx="0" fill="rgba(0,0,0,0.15)" stroke="#111" stroke-width="0.00"/>
<rect x="133.6" y="477.4" width="6.1" height="15.5" rx="0" fill="#222" stroke="#111" stroke-width="0.85"/>
<polygon points="141.1,459.2 218.6,459.5 218.7,464.6 141.2,464.4" fill="url(#h2)" stroke="#111" stroke-width="1.24" stroke-linejoin="miter"/>
<polygon points="263.5,459.4 347.8,459.5 347.9,464.5 263.6,464.5" fill="url(#h2)" stroke="#111" stroke-width="1.24" stroke-linejoin="miter"/>
<polygon points="141.1,459.2 218.6,459.5 218.7,464.6 141.2,464.4" fill="rgba(0,0,0,0.15)" stroke="#111" stroke-width="0.00" stroke-linejoin="miter"/>
<polygon points="263.5,459.4 347.8,459.5 347.9,464.5 263.6,464.5" fill="rgba(0,0,0,0.15)" stroke="#111" stroke-width="0.00" stroke-linejoin="miter"/>
<line x1="141.2" y1="467.3" x2="224.4" y2="467.3" stroke="#111" stroke-width="1.03"/>
<line x1="252.1" y1="467.5" x2="336.4" y2="467.6" stroke="#111" stroke-width="1.03"/>
<line x1="144.9" y1="476.4" x2="336.6" y2="476.3" stroke="#111" stroke-width="1.65"/>
<line x1="145.0" y1="480.0" x2="331.0" y2="480.0" stroke="#111" stroke-width="1.03"/>
<line x1="145.0" y1="483.2" x2="336.7" y2="483.3" stroke="#111" stroke-width="1.85"/>
<line x1="145.1" y1="486.4" x2="336.8" y2="486.4" stroke="#111" stroke-width="1.03"/>
<polygon points="142.5,489.4 348.3,489.4 348.4,496.3 142.6,496.2" fill="url(#h4b)" stroke="#111" stroke-width="1.34" stroke-linejoin="miter"/>
<rect x="336.4" y="467.7" width="11.5" height="19.6" rx="0" fill="url(#h2)" stroke="#111" stroke-width="1.34"/>
<rect x="336.4" y="467.7" width="11.5" height="19.6" rx="0" fill="rgba(0,0,0,0.15)" stroke="#111" stroke-width="0.00"/>
<rect x="337.2" y="450.4" width="9.2" height="17.2" rx="0" fill="#fff" stroke="#111" stroke-width="1.03"/>
<rect x="339.0" y="454.1" width="5.8" height="13.0" rx="0" fill="#333" stroke="#111" stroke-width="0.85"/>
<line x1="341.8" y1="446.1" x2="342.1" y2="469.1" stroke="#111" stroke-width="0.85"/>
<polyline points="85.3,477.3 65.4,477.4 65.8,497.8 87.7,497.6" fill="none" stroke="#111" stroke-width="1.34" stroke-linejoin="miter"/>
<line x1="80.1" y1="472.4" x2="80.4" y2="502.4" stroke="#111" stroke-width="0.85" stroke-dasharray="8 2 2 2"/>
<polygon points="85.3,477.9 101.7,477.7 101.6,469.9 107.5,464.7 111.0,464.6 110.9,457.7 130.2,457.8 130.8,493.0 108.9,493.2 108.9,491.5 87.6,491.6 85.6,491.7" fill="url(#h3)" stroke="#111" stroke-width="1.44" stroke-linejoin="miter"/>
<rect x="114.4" y="465.5" width="9.5" height="13.8" rx="0" fill="#fff" stroke="#111" stroke-width="1.03"/>
<line x1="117.2" y1="466.1" x2="117.4" y2="479.1" stroke="#111" stroke-width="0.85"/>
<line x1="121.2" y1="466.0" x2="121.4" y2="479.0" stroke="#111" stroke-width="0.85"/>
<rect x="111.6" y="479.3" width="14.9" height="5.2" rx="0" fill="#fff" stroke="#111" stroke-width="1.03"/>
<rect x="87.6" y="491.6" width="21.3" height="12.1" rx="0" fill="url(#h2b)" stroke="#111" stroke-width="1.34"/>
<rect x="95.5" y="485.5" width="5.8" height="18.0" rx="0" fill="#222" stroke="#111" stroke-width="0.85"/>
<line x1="98.4" y1="481.2" x2="98.6" y2="507.2" stroke="#111" stroke-width="0.85"/>
<line x1="49.3" y1="497.9" x2="87.7" y2="497.7" stroke="#111" stroke-width="1.34"/>
<line x1="109.0" y1="497.6" x2="348.5" y2="497.4" stroke="#111" stroke-width="1.54"/>
<polygon points="347.9,466.5 370.9,466.4 378.9,473.8 379.0,480.0 396.5,480.0 396.7,494.9 393.3,495.0 393.3,493.9 371.4,493.8 371.4,496.0 348.4,496.2" fill="url(#h3)" stroke="#111" stroke-width="1.44" stroke-linejoin="miter"/>
<rect x="358.2" y="467.0" width="6.0" height="10.5" rx="0" fill="#fff" stroke="#111" stroke-width="1.03"/>
<line x1="361.2" y1="462.9" x2="361.5" y2="488.9" stroke="#111" stroke-width="0.85"/>
<rect x="354.7" y="477.5" width="13.5" height="5.4" rx="0" fill="#fff" stroke="#111" stroke-width="1.03"/>
<polyline points="396.5,480.0 421.9,480.0 422.2,500.3 393.4,500.3" fill="none" stroke="#111" stroke-width="1.34" stroke-linejoin="miter"/>
<line x1="406.7" y1="476.5" x2="407.0" y2="503.5" stroke="#111" stroke-width="0.85" stroke-dasharray="8 2 2 2"/>
<rect x="371.4" y="493.8" width="21.9" height="12.2" rx="0" fill="url(#h2b)" stroke="#111" stroke-width="1.34"/>
<rect x="379.5" y="487.8" width="5.6" height="17.0" rx="0" fill="#222" stroke="#111" stroke-width="0.85"/>
<line x1="382.2" y1="484.7" x2="382.5" y2="508.7" stroke="#111" stroke-width="0.85"/>
<line x1="393.4" y1="500.4" x2="429.3" y2="500.4" stroke="#111" stroke-width="1.24"/>
<rect x="317.2" y="353.9" width="109.4" height="46.0" rx="0" fill="#fff" stroke="#111" stroke-width="1.54"/>
<rect x="317.2" y="353.9" width="109.4" height="3.4" rx="0" fill="url(#h2)" stroke="#111" stroke-width="1.03"/>
<rect x="320.7" y="357.3" width="6.9" height="41.5" rx="0" fill="url(#h3)" stroke="#111" stroke-width="1.24"/>
<line x1="318.3" y1="353.9" x2="319.0" y2="398.8" stroke="#111" stroke-width="1.85"/>
<rect x="327.6" y="357.2" width="4.5" height="41.5" rx="0" fill="#fff" stroke="#111" stroke-width="1.03"/>
<line x1="329.8" y1="357.2" x2="330.5" y2="398.7" stroke="#111" stroke-width="0.85" stroke-dasharray="3 1.5"/>
<rect x="337.5" y="368.6" width="17.9" height="29.5" rx="0" fill="url(#h4b)" stroke="#111" stroke-width="1.24"/>
<rect x="330.5" y="369.5" width="10.0" height="5.4" rx="0" fill="#222" stroke="#111" stroke-width="0.85"/>
<rect x="330.8" y="383.5" width="10.0" height="5.4" rx="0" fill="#222" stroke="#111" stroke-width="0.85"/>
<rect x="336.4" y="359.7" width="23.0" height="8.0" rx="0" fill="#fff" stroke="#111" stroke-width="1.03"/>
<rect x="355.2" y="357.0" width="58.7" height="12.7" rx="0" fill="#fff" stroke="#111" stroke-width="1.03"/>
<line x1="358.9" y1="360.0" x2="412.9" y2="359.9" stroke="#111" stroke-width="1.24"/>
<line x1="358.9" y1="363.0" x2="412.9" y2="362.9" stroke="#111" stroke-width="0.93"/>
<line x1="355.4" y1="366.0" x2="413.0" y2="366.1" stroke="#111" stroke-width="1.44"/>
<line x1="358.8" y1="357.8" x2="412.8" y2="357.7" stroke="#111" stroke-width="0.85" stroke-dasharray="4 2"/>
<rect x="413.9" y="356.5" width="12.7" height="12.7" rx="0" fill="url(#h3)" stroke="#111" stroke-width="1.24"/>
<circle cx="417.9" cy="360.9" r="2.4" fill="#222" stroke="#111" stroke-width="0.85"/>
<rect x="355.4" y="369.7" width="63.3" height="23.0" rx="0" fill="#fff" stroke="#111" stroke-width="1.54"/>
<rect x="355.5" y="371.5" width="5.0" height="19.5" rx="0" fill="#fff" stroke="#111" stroke-width="1.03"/>
<rect x="365.1" y="372.4" width="43.0" height="17.0" rx="0" fill="#fff" stroke="#111" stroke-width="1.24"/>
<line x1="360.6" y1="381.1" x2="419.2" y2="381.0" stroke="#111" stroke-width="0.85" stroke-dasharray="12 2 2 2"/>
<line x1="365.1" y1="374.9" x2="408.1" y2="374.8" stroke="#111" stroke-width="0.85"/>
<line x1="365.3" y1="387.2" x2="408.3" y2="387.1" stroke="#111" stroke-width="0.85"/>
<rect x="408.1" y="371.0" width="4.0" height="19.5" rx="0" fill="url(#h2)" stroke="#111" stroke-width="0.93"/>
<rect x="366.2" y="393.3" width="47.2" height="6.2" rx="0" fill="url(#h3)" stroke="#111" stroke-width="1.24"/>
<rect x="366.4" y="399.5" width="11.5" height="4.6" rx="0" fill="url(#h3)" stroke="#111" stroke-width="1.13"/>
<rect x="322.0" y="399.3" width="9.0" height="4.6" rx="0" fill="#fff" stroke="#111" stroke-width="1.03"/>
<rect x="418.8" y="371.4" width="9.2" height="23.0" rx="0" fill="#fff" stroke="#111" stroke-width="1.44"/>
<path d="M427.98 372.45 L440.08 372.34 Q444.08 372.30 444.15 376.20 L444.36 388.20 Q444.42 391.90 440.42 391.94 L428.32 392.04 Z" fill="#fff" stroke="#111" stroke-width="1.54" />
<line x1="430.2" y1="377.3" x2="444.2" y2="377.3" stroke="#111" stroke-width="0.93"/>
<line x1="430.3" y1="386.8" x2="444.3" y2="386.8" stroke="#111" stroke-width="0.93"/>
<line x1="432.2" y1="380.3" x2="443.2" y2="380.2" stroke="#111" stroke-width="1.24"/>
<line x1="432.3" y1="383.3" x2="443.3" y2="383.2" stroke="#111" stroke-width="1.24"/>
<line x1="419.2" y1="382.0" x2="448.2" y2="382.0" stroke="#111" stroke-width="0.85"/>
<line x1="239.1" y1="395.3" x2="239.1" y2="503.0" stroke="#111" stroke-width="0.85" stroke-dasharray="16 2 2 2"/>
</g>
<g transform="translate(200 610) matrix(1 0.0088 -0.0175 1 0 0) translate(-200 -610)">
<polygon points="51.8,677.5 231.4,681.9 231.4,684.3 51.8,680.6" fill="#fff" stroke="#111" stroke-width="1.03" stroke-linejoin="miter"/>
<line x1="67.6" y1="655.3" x2="67.7" y2="689.0" stroke="#111" stroke-width="0.85"/>
<path d="M31.09 649.19 L38.81 650.42 L54.70 667.08 L44.30 667.17 L42.94 663.78 L30.74 663.89 Q31.87 659.48 30.41 656.49 Q31.74 652.48 31.09 649.19 Z" fill="#fff" stroke="#111" stroke-width="1.13" />
<polygon points="223.5,657.8 223.5,571.1 233.2,571.0 233.2,565.8 330.1,540.4 339.1,540.3 339.0,657.4" fill="#fff" stroke="#111" stroke-width="1.65" stroke-linejoin="miter"/>
<polygon points="233.2,565.8 330.1,540.4 330.0,549.9 234.1,574.8" fill="url(#h6)" stroke="#111" stroke-width="1.24" stroke-linejoin="miter"/>
<polygon points="330.1,540.4 339.1,540.3 339.0,657.4 330.5,657.4" fill="url(#h3b)" stroke="#111" stroke-width="1.34" stroke-linejoin="miter"/>
<polygon points="321.8,550.7 330.0,548.4 330.1,580.9 321.8,580.9" fill="url(#h3)" stroke="#111" stroke-width="1.13" stroke-linejoin="miter"/>
<line x1="323.9" y1="580.9" x2="323.8" y2="642.7" stroke="#111" stroke-width="1.03"/>
<polyline points="323.8,642.7 330.3,634.9" fill="none" stroke="#111" stroke-width="1.03" stroke-linejoin="miter"/>
<polygon points="223.5,652.6 339.0,652.2 339.0,657.4 223.5,657.8" fill="url(#h6)" stroke="#111" stroke-width="1.24" stroke-linejoin="miter"/>
<polygon points="316.7,652.2 330.4,638.9 330.4,652.2" fill="url(#h3)" stroke="#111" stroke-width="1.03" stroke-linejoin="miter"/>
<rect x="223.5" y="571.1" width="9.7" height="26.0" rx="0" fill="url(#h3b)" stroke="#111" stroke-width="1.24"/>
<rect x="232.9" y="574.8" width="10.3" height="22.0" rx="0" fill="url(#h5)" stroke="#111" stroke-width="1.24"/>
<rect x="223.5" y="621.8" width="10.2" height="30.8" rx="0" fill="url(#h3b)" stroke="#111" stroke-width="1.24"/>
<rect x="233.8" y="625.7" width="10.3" height="26.8" rx="0" fill="url(#h5)" stroke="#111" stroke-width="1.24"/>
<polyline points="223.5,571.1 211.7,591.9 223.5,596.8" fill="none" stroke="#111" stroke-width="1.24" stroke-linejoin="miter"/>
<line x1="217.4" y1="575.8" x2="242.4" y2="575.6" stroke="#111" stroke-width="0.85"/>
<line x1="218.6" y1="646.7" x2="245.6" y2="646.5" stroke="#111" stroke-width="0.85"/>
<polygon points="244.9,572.2 290.8,560.1 291.2,580.8 258.9,581.1 245.2,586.4" fill="url(#xh)" stroke="#111" stroke-width="1.24" stroke-linejoin="miter"/>
<ellipse cx="273.5" cy="593.5" rx="15.8" ry="12.1" fill="url(#xh)" stroke="#111" stroke-width="1.34"/>
<ellipse cx="273.5" cy="593.5" rx="15.8" ry="12.1" fill="rgba(0,0,0,0.2)" stroke="#111" stroke-width="0.00"/>
<ellipse cx="273.5" cy="593.5" rx="9.4" ry="6.5" fill="#fff" stroke="#111" stroke-width="1.24"/>
<polygon points="244.1,626.6 250.3,626.6 262.5,640.4 287.7,651.7 244.5,652.1" fill="url(#xh)" stroke="#111" stroke-width="1.24" stroke-linejoin="miter"/>
<polygon points="259.3,606.0 291.1,604.0 297.1,617.9 314.2,633.3 311.1,640.4 252.0,626.0 255.6,617.0" fill="#fff" stroke="#111" stroke-width="1.44" stroke-linejoin="miter"/>
<line x1="259.4" y1="607.3" x2="297.1" y2="617.9" stroke="#111" stroke-width="1.13"/>
<line x1="255.6" y1="617.0" x2="314.2" y2="633.3" stroke="#111" stroke-width="1.13"/>
<path d="M245.53 628.70 Q249.29 626.57 253.30 627.33 Q258.33 628.99 263.67 631.14 Q268.36 630.40 274.02 628.45 Q280.32 628.29 285.66 630.35 Q291.41 633.20 296.17 636.75 Q300.53 640.12 305.37 642.47 Q309.59 643.84 314.39 643.69 Q317.60 644.47 318.35 646.86 Q318.18 648.96 315.79 649.48 Q306.71 650.56 299.01 650.33 Q288.70 650.22 279.49 649.20 Q268.65 646.90 259.99 643.47 Q251.53 640.55 245.68 637.20 Q243.20 632.62 245.53 628.70 Z" fill="url(#xh)" stroke="#111" stroke-width="1.34" />
<path d="M245.53 628.70 Q249.29 626.57 253.30 627.33 Q258.33 628.99 263.67 631.14 Q268.36 630.40 274.02 628.45 Q280.32 628.29 285.66 630.35 Q291.41 633.20 296.17 636.75 Q300.53 640.12 305.37 642.47 Q309.59 643.84 314.39 643.69 Q317.60 644.47 318.35 646.86 Q318.18 648.96 315.79 649.48 Q306.71 650.56 299.01 650.33 Q288.70 650.22 279.49 649.20 Q268.65 646.90 259.99 643.47 Q251.53 640.55 245.68 637.20 Q243.20 632.62 245.53 628.70 Z" fill="rgba(0,0,0,0.2)" stroke="none" stroke-width="0.00" />
<path d="M251.39 632.55 Q257.40 632.69 263.74 635.04 Q268.43 634.40 274.09 632.35 Q279.39 632.10 284.42 633.96 Q290.47 636.70 294.93 640.56 Q299.60 644.12 304.12 645.68 Q308.64 646.64 313.14 646.30 Q307.66 647.95 302.86 647.69 Q292.66 647.78 283.34 646.57 Q273.62 645.15 266.47 642.82 Q257.52 639.49 250.85 635.85 Q249.71 633.56 251.39 632.55 Z" fill="#fff" stroke="#111" stroke-width="1.13" />
<path d="M141.38 586.22 L141.11 616.02 A12.4 12.4 0.0 0 0 165.91 616.40 L166.19 586.60 A12.4 12.4 0.0 0 0 141.38 586.22 Z" fill="#fff" stroke="#111" stroke-width="1.54" />
<path d="M158.21 604.87 L203.65 624.17 A12.3 12.3 0.0 0 1 208.09 643.93 L223.51 650.79 L223.54 657.79 L148.81 627.55 A12.3 12.3 0.0 0 1 158.21 604.87 Z" fill="#fff" stroke="#111" stroke-width="1.54" />
<path d="M259.32 605.68 L157.28 574.58 A12.4 12.4 0.0 0 0 150.29 598.24 L248.01 627.98 L253.18 620.53 Z" fill="#fff" stroke="#111" stroke-width="1.54" />
<polyline points="165.9,601.8 196.0,611.5 191.2,621.1" fill="none" stroke="#111" stroke-width="1.13" stroke-linejoin="miter"/>
<circle cx="153.8" cy="586.4" r="5.6" fill="url(#h2)" stroke="#111" stroke-width="1.96"/>
<line x1="145.3" y1="586.5" x2="162.3" y2="586.3" stroke="#111" stroke-width="1.03"/>
<line x1="153.6" y1="577.9" x2="153.9" y2="594.9" stroke="#111" stroke-width="1.03"/>
<circle cx="153.5" cy="616.2" r="5.6" fill="url(#h2)" stroke="#111" stroke-width="1.96"/>
<line x1="145.0" y1="616.3" x2="162.0" y2="616.1" stroke="#111" stroke-width="1.03"/>
<line x1="153.4" y1="607.7" x2="153.7" y2="624.7" stroke="#111" stroke-width="1.03"/>
<circle cx="216.0" cy="604.3" r="5.6" fill="url(#h2)" stroke="#111" stroke-width="1.96"/>
<line x1="207.5" y1="604.3" x2="224.5" y2="604.2" stroke="#111" stroke-width="1.03"/>
<line x1="215.9" y1="595.8" x2="216.1" y2="612.8" stroke="#111" stroke-width="1.03"/>
<circle cx="198.9" cy="635.5" r="5.6" fill="url(#h2)" stroke="#111" stroke-width="1.96"/>
<line x1="190.4" y1="635.6" x2="207.4" y2="635.4" stroke="#111" stroke-width="1.03"/>
<line x1="198.8" y1="627.0" x2="199.1" y2="644.0" stroke="#111" stroke-width="1.03"/>
<polygon points="78.5,666.9 87.5,650.7 131.8,630.1 140.8,630.0 140.8,632.6 164.1,632.4 164.2,640.2 170.8,641.5 170.9,651.8 164.5,653.1 164.6,660.9 141.3,661.1 141.3,662.4 132.4,665.1 85.0,665.5 82.5,667.5" fill="#fff" stroke="#111" stroke-width="1.54" stroke-linejoin="miter"/>
<polygon points="81.9,665.5 85.4,660.3 132.3,659.9 132.4,665.1" fill="url(#h2b)" stroke="#111" stroke-width="1.13" stroke-linejoin="miter"/>
<rect x="131.8" y="630.1" width="9.0" height="32.4" rx="0" fill="url(#h3b)" stroke="#111" stroke-width="1.24"/>
<rect x="142.1" y="632.6" width="22.0" height="7.8" rx="0" fill="url(#h3b)" stroke="#111" stroke-width="1.24"/>
<rect x="142.5" y="653.3" width="22.0" height="7.8" rx="0" fill="url(#h3b)" stroke="#111" stroke-width="1.24"/>
<rect x="132.0" y="641.8" width="38.8" height="10.3" rx="0" fill="#fff" stroke="#111" stroke-width="1.24"/>
<rect x="117.6" y="639.3" width="6.5" height="15.5" rx="0" fill="#fff" stroke="#111" stroke-width="1.24"/>
<rect x="124.1" y="639.3" width="7.8" height="15.5" rx="0" fill="#fff" stroke="#111" stroke-width="1.24"/>
<line x1="117.7" y1="644.2" x2="132.0" y2="644.1" stroke="#111" stroke-width="0.85"/>
<line x1="117.8" y1="650.2" x2="132.1" y2="650.1" stroke="#111" stroke-width="0.85"/>
<line x1="112.7" y1="647.3" x2="174.6" y2="647.1" stroke="#111" stroke-width="0.85" stroke-dasharray="10 2 2 2"/>
<line x1="318.1" y1="556.8" x2="342.1" y2="556.7" stroke="#111" stroke-width="0.85"/>
<line x1="318.4" y1="574.1" x2="342.4" y2="574.0" stroke="#111" stroke-width="0.85"/>
<line x1="319.6" y1="645.8" x2="343.6" y2="645.8" stroke="#111" stroke-width="0.85"/>
</g>
<g transform="translate(200 770) matrix(1 0.0088 -0.0175 1 0 0) translate(-200 -770)">
<polygon points="82.8,835.9 225.6,836.3 225.6,839.4 82.8,838.4" fill="#fff" stroke="#111" stroke-width="1.03" stroke-linejoin="miter"/>
<rect x="43.2" y="836.3" width="39.6" height="12.9" rx="0" fill="url(#h4)" stroke="#111" stroke-width="1.34"/>
<line x1="61.9" y1="828.3" x2="62.0" y2="852.9" stroke="#111" stroke-width="0.85"/>
<path d="M31.20 815.59 L36.31 816.14 L48.15 824.54 L57.45 835.55 L46.97 831.05 L32.02 833.78 Q33.02 828.47 31.45 824.48 Q32.87 819.47 31.20 815.59 Z" fill="#fff" stroke="#111" stroke-width="1.13" />
<polygon points="216.6,811.8 216.6,726.3 226.6,726.2 226.7,722.4 325.6,695.4 333.8,695.3 333.3,811.4" fill="#fff" stroke="#111" stroke-width="1.65" stroke-linejoin="miter"/>
<polygon points="226.7,722.4 325.6,695.4 325.6,705.9 237.9,729.7 226.6,731.4" fill="url(#h6)" stroke="#111" stroke-width="1.24" stroke-linejoin="miter"/>
<polygon points="325.6,695.4 333.8,695.3 333.3,811.4 325.2,811.4" fill="url(#h3b)" stroke="#111" stroke-width="1.34" stroke-linejoin="miter"/>
<polygon points="317.6,708.6 325.6,706.4 325.6,733.1 317.7,733.2" fill="url(#h3)" stroke="#111" stroke-width="1.13" stroke-linejoin="miter"/>
<line x1="318.9" y1="733.2" x2="318.6" y2="789.0" stroke="#111" stroke-width="1.03"/>
<polygon points="310.6,805.0 325.3,786.9 325.3,805.0" fill="url(#h3)" stroke="#111" stroke-width="1.03" stroke-linejoin="miter"/>
<polygon points="216.6,805.3 333.4,805.0 333.3,811.4 216.6,811.8" fill="url(#h6)" stroke="#111" stroke-width="1.24" stroke-linejoin="miter"/>
<rect x="216.6" y="726.3" width="8.8" height="20.8" rx="0" fill="url(#h3b)" stroke="#111" stroke-width="1.24"/>
<rect x="225.0" y="730.8" width="12.2" height="16.2" rx="0" fill="url(#h5)" stroke="#111" stroke-width="1.24"/>
<rect x="216.6" y="775.9" width="9.1" height="29.4" rx="0" fill="url(#h3b)" stroke="#111" stroke-width="1.24"/>
<polygon points="225.8,775.8 232.1,777.7 238.3,791.7 238.5,805.1 226.3,805.2" fill="url(#h5)" stroke="#111" stroke-width="1.24" stroke-linejoin="miter"/>
<polyline points="202.0,747.2 211.9,726.3 216.6,726.3" fill="none" stroke="#111" stroke-width="1.24" stroke-linejoin="miter"/>
<line x1="212.4" y1="732.9" x2="239.3" y2="732.7" stroke="#111" stroke-width="0.85"/>
<line x1="213.5" y1="798.4" x2="240.5" y2="798.1" stroke="#111" stroke-width="0.85"/>
<line x1="312.0" y1="711.0" x2="336.5" y2="711.0" stroke="#111" stroke-width="0.85"/>
<line x1="312.2" y1="726.5" x2="336.7" y2="726.5" stroke="#111" stroke-width="0.85"/>
<line x1="313.5" y1="798.0" x2="338.0" y2="798.0" stroke="#111" stroke-width="0.85"/>
<polygon points="238.7,727.4 288.1,715.3 288.5,736.0 273.0,736.2 255.1,745.4 239.0,745.6" fill="url(#xh)" stroke="#111" stroke-width="1.24" stroke-linejoin="miter"/>
<path d="M254.54 743.52 Q261.41 736.46 271.43 737.37 Q282.42 736.77 289.36 733.21 L291.43 737.20 Q283.51 742.27 271.52 742.37 Q262.52 742.45 257.57 745.49 Z" fill="#fff" stroke="#111" stroke-width="1.03" />
<polygon points="238.3,791.7 250.5,799.6 262.6,804.8 238.5,805.1" fill="url(#xh)" stroke="#111" stroke-width="1.03" stroke-linejoin="miter"/>
<polygon points="252.5,746.7 288.6,746.4 291.4,737.2 296.5,744.2 304.5,759.2 312.3,761.7 312.4,769.5 252.9,770.0" fill="#fff" stroke="#111" stroke-width="1.44" stroke-linejoin="miter"/>
<line x1="252.7" y1="759.6" x2="304.5" y2="759.2" stroke="#111" stroke-width="1.13"/>
<polyline points="237.9,770.2 238.3,791.7" fill="none" stroke="#111" stroke-width="1.13" stroke-linejoin="miter"/>
<polyline points="312.4,769.5 312.7,789.0 305.6,802.1 262.6,802.4" fill="none" stroke="#111" stroke-width="1.13" stroke-linejoin="miter"/>
<ellipse cx="284.3" cy="785.3" rx="25.9" ry="20.2" fill="url(#xh)" stroke="#111" stroke-width="1.44"/>
<ellipse cx="284.3" cy="785.3" rx="25.9" ry="20.2" fill="rgba(0,0,0,0.12)" stroke="#111" stroke-width="0.00"/>
<ellipse cx="284.3" cy="785.3" rx="21.0" ry="15.4" fill="#fff" stroke="#111" stroke-width="1.34"/>
<path d="M133.79 758.28 L133.86 790.48 A11.6 11.6 0.0 0 0 157.06 790.68 L157.00 758.48 A11.6 11.6 0.0 0 0 133.79 758.28 Z" fill="#fff" stroke="#111" stroke-width="1.54" />
<path d="M145.66 801.78 L192.75 801.36 A11.2 11.2 0.0 0 0 192.36 778.97 L145.26 779.38 A11.2 11.2 0.0 0 0 145.66 801.78 Z" fill="#fff" stroke="#111" stroke-width="1.54" />
<polyline points="192.7,801.4 216.6,811.8" fill="none" stroke="#111" stroke-width="1.44" stroke-linejoin="miter"/>
<polyline points="200.2,782.5 207.0,770.4" fill="none" stroke="#111" stroke-width="1.24" stroke-linejoin="miter"/>
<path d="M145.21 747.68 L252.49 746.74 L252.90 770.03 L145.59 769.48 A11.6 10.9 0.0 0 1 145.21 747.68 Z" fill="#fff" stroke="#111" stroke-width="1.54" />
<polyline points="157.0,769.6 157.2,779.4" fill="none" stroke="#111" stroke-width="1.03" stroke-linejoin="miter"/>
<polyline points="157.1,774.4 178.1,774.2 182.0,769.7" fill="none" stroke="#111" stroke-width="1.03" stroke-linejoin="miter"/>
<line x1="134.8" y1="758.5" x2="204.8" y2="758.5" stroke="#111" stroke-width="0.85" stroke-dasharray="14 2 2 2"/>
<line x1="135.4" y1="790.7" x2="200.4" y2="790.3" stroke="#111" stroke-width="0.85" stroke-dasharray="14 2 2 2"/>
<circle cx="145.4" cy="758.4" r="5.2" fill="url(#h2)" stroke="#111" stroke-width="1.96"/>
<line x1="136.9" y1="758.5" x2="153.9" y2="758.3" stroke="#111" stroke-width="1.03"/>
<line x1="145.2" y1="749.9" x2="145.5" y2="766.9" stroke="#111" stroke-width="1.03"/>
<circle cx="145.5" cy="790.6" r="5.2" fill="url(#h2)" stroke="#111" stroke-width="1.96"/>
<line x1="137.0" y1="790.7" x2="154.0" y2="790.5" stroke="#111" stroke-width="1.03"/>
<line x1="145.3" y1="782.1" x2="145.6" y2="799.1" stroke="#111" stroke-width="1.03"/>
<circle cx="192.6" cy="790.2" r="5.2" fill="url(#h2)" stroke="#111" stroke-width="1.96"/>
<line x1="184.1" y1="790.2" x2="201.1" y2="790.1" stroke="#111" stroke-width="1.03"/>
<line x1="192.4" y1="781.7" x2="192.7" y2="798.7" stroke="#111" stroke-width="1.03"/>
<circle cx="209.9" cy="758.7" r="5.2" fill="url(#h2)" stroke="#111" stroke-width="1.96"/>
<line x1="201.4" y1="758.8" x2="218.4" y2="758.6" stroke="#111" stroke-width="1.03"/>
<line x1="209.8" y1="750.2" x2="210.1" y2="767.2" stroke="#111" stroke-width="1.03"/>
<polygon points="70.3,834.7 76.6,823.0 121.5,801.4 131.9,801.3 132.0,803.1 152.6,802.9 155.3,806.8 159.7,808.4 161.9,812.3 162.1,821.3 160.0,825.9 155.7,827.4 155.8,831.4 129.9,831.6 127.1,832.9 73.1,833.9" fill="#fff" stroke="#111" stroke-width="1.54" stroke-linejoin="miter"/>
<polygon points="73.1,833.6 77.0,829.5 129.8,829.0 129.9,832.9" fill="url(#h2b)" stroke="#111" stroke-width="1.03" stroke-linejoin="miter"/>
<rect x="121.5" y="801.4" width="7.8" height="27.7" rx="0" fill="url(#h3b)" stroke="#111" stroke-width="1.13"/>
<polygon points="132.0,803.1 152.6,802.9 155.3,806.8 155.4,811.9 132.1,812.1" fill="url(#h3b)" stroke="#111" stroke-width="1.24" stroke-linejoin="miter"/>
<rect x="132.3" y="822.5" width="23.3" height="9.1" rx="0" fill="url(#h3b)" stroke="#111" stroke-width="1.24"/>
<rect x="121.7" y="812.2" width="33.7" height="10.4" rx="0" fill="#fff" stroke="#111" stroke-width="1.24"/>
<rect x="108.8" y="809.8" width="5.1" height="15.5" rx="0" fill="#fff" stroke="#111" stroke-width="1.24"/>
<rect x="113.9" y="809.8" width="7.8" height="15.5" rx="0" fill="#fff" stroke="#111" stroke-width="1.24"/>
<line x1="108.9" y1="814.6" x2="121.8" y2="814.5" stroke="#111" stroke-width="0.85"/>
<line x1="109.0" y1="820.6" x2="121.9" y2="820.5" stroke="#111" stroke-width="0.85"/>
<line x1="103.8" y1="817.3" x2="166.8" y2="817.2" stroke="#111" stroke-width="0.85" stroke-dasharray="10 2 2 2"/>
<line x1="129.3" y1="801.3" x2="129.9" y2="831.6" stroke="#111" stroke-width="0.85"/>
</g>
<g transform="translate(572 120) matrix(1 0.0088 -0.0175 1 0 0) translate(-572 -120)">
<polyline points="544.3,94.3 510.7,94.6 511.0,112.7 538.6,112.5" fill="none" stroke="#111" stroke-width="1.44" stroke-linejoin="miter"/>
<polyline points="599.5,93.9 628.5,93.6" fill="none" stroke="#111" stroke-width="1.44" stroke-linejoin="miter"/>
<polyline points="606.7,111.9 628.9,111.7" fill="none" stroke="#111" stroke-width="1.44" stroke-linejoin="miter"/>
<line x1="628.5" y1="93.6" x2="628.9" y2="111.7" stroke="#111" stroke-width="0.85" stroke-dasharray="4 1.5"/>
<polygon points="539.3,102.6 552.0,102.5 552.1,107.1 545.7,107.1 545.8,116.8 539.5,116.9" fill="url(#h2b)" stroke="#111" stroke-width="1.34" stroke-linejoin="miter"/>
<polygon points="605.5,102.2 592.3,102.3 592.4,106.9 598.9,106.9 599.0,116.6 605.7,116.5" fill="url(#h2b)" stroke="#111" stroke-width="1.34" stroke-linejoin="miter"/>
<polygon points="545.7,107.1 552.1,107.1 551.9,95.2 557.8,95.1 558.5,138.0 546.2,138.1" fill="url(#h4)" stroke="#111" stroke-width="1.44" stroke-linejoin="miter"/>
<polygon points="598.9,106.9 592.4,106.9 592.2,95.0 586.5,95.1 587.2,138.0 599.4,137.9" fill="url(#h4)" stroke="#111" stroke-width="1.44" stroke-linejoin="miter"/>
<line x1="560.7" y1="100.1" x2="561.0" y2="121.8" stroke="#111" stroke-width="1.03"/>
<line x1="584.0" y1="99.9" x2="584.4" y2="121.6" stroke="#111" stroke-width="1.03"/>
<line x1="558.4" y1="121.8" x2="587.0" y2="121.6" stroke="#111" stroke-width="1.24"/>
<rect x="558.4" y="121.8" width="28.6" height="8.0" rx="0" fill="url(#h2b)" stroke="#111" stroke-width="1.24"/>
<rect x="558.4" y="121.8" width="28.6" height="8.0" rx="0" fill="rgba(0,0,0,0.15)" stroke="#111" stroke-width="0.00"/>
<line x1="558.7" y1="136.5" x2="587.3" y2="136.3" stroke="#111" stroke-width="1.03"/>
<line x1="563.2" y1="133.1" x2="582.2" y2="132.5" stroke="#111" stroke-width="0.85"/>
<line x1="545.0" y1="136.6" x2="545.1" y2="141.4" stroke="#111" stroke-width="1.34"/>
<line x1="599.4" y1="136.2" x2="599.5" y2="141.0" stroke="#111" stroke-width="1.34"/>
<polygon points="544.5,91.6 543.1,89.3 543.6,87.2 560.9,76.9 591.6,77.1 602.3,87.1 602.7,90.1 599.5,92.4 588.1,91.9 579.3,101.4 566.2,101.6 556.9,91.5" fill="#fff" stroke="#111" stroke-width="1.65" stroke-linejoin="miter"/>
<polyline points="548.5,92.7 548.6,96.2 555.6,96.1 558.1,100.1" fill="none" stroke="#111" stroke-width="1.24" stroke-linejoin="miter"/>
<polyline points="595.5,92.3 595.6,95.8 589.6,95.8 586.6,99.9" fill="none" stroke="#111" stroke-width="1.24" stroke-linejoin="miter"/>
<circle cx="573.2" cy="90.9" r="6.1" fill="url(#h2)" stroke="#111" stroke-width="1.54"/>
<line x1="564.0" y1="91.0" x2="582.5" y2="90.8" stroke="#111" stroke-width="0.85"/>
<polygon points="578.7,103.0 581.8,106.0 578.8,109.0 575.8,106.1" fill="#111" stroke="#111" stroke-width="0.85" stroke-linejoin="miter"/>
<path d="M595.17 78.10 Q593.71 75.11 593.61 75.11 Q590.05 65.84 584.25 60.09 Q578.84 53.44 571.96 49.10 Q566.69 45.05 561.87 44.19 Q558.17 44.12 557.31 46.23 Q557.54 47.93 558.85 48.72 Q561.78 50.29 563.02 52.68 L563.57 55.17 Q562.45 60.08 560.73 64.30 Q559.88 67.61 560.23 70.30 Q560.66 72.10 562.38 72.88" fill="none" stroke="#111" stroke-width="0.98" />
<path d="M566.01 52.15 Q566.10 57.05 565.37 61.26 Q565.02 64.06 564.26 66.27" fill="none" stroke="#111" stroke-width="0.93" />
<path d="M567.17 72.64 A6.5 6.5 0.0 1 1 578.57 72.54" fill="#fff" stroke="#111" stroke-width="1.24" />
<line x1="563.6" y1="69.6" x2="583.1" y2="69.4" stroke="#111" stroke-width="0.85"/>
<line x1="560.9" y1="76.0" x2="585.0" y2="76.0" stroke="#111" stroke-width="2.68"/>
<line x1="561.7" y1="73.7" x2="586.5" y2="73.7" stroke="#111" stroke-width="0.93"/>
<polyline points="580.2,57.6 580.1,53.0 584.6,53.0 584.7,59.4" fill="none" stroke="#111" stroke-width="0.93" stroke-linejoin="miter"/>
<line x1="573.0" y1="45.0" x2="573.3" y2="201.0" stroke="#111" stroke-width="0.85" stroke-dasharray="16 2 2 2"/>
<rect x="516.5" y="141.7" width="111.2" height="13.3" rx="2.5" fill="#fff" stroke="#111" stroke-width="1.54"/>
<line x1="517.5" y1="146.3" x2="626.9" y2="145.3" stroke="#111" stroke-width="1.03"/>
<line x1="530.5" y1="137.9" x2="530.9" y2="157.9" stroke="#111" stroke-width="0.85" stroke-dasharray="7 1.5 1.5 1.5"/>
<line x1="614.1" y1="137.1" x2="614.4" y2="157.1" stroke="#111" stroke-width="0.85" stroke-dasharray="7 1.5 1.5 1.5"/>
<line x1="524.7" y1="154.9" x2="517.9" y2="162.0" stroke="#111" stroke-width="0.93"/>
<line x1="531.0" y1="154.9" x2="524.1" y2="161.9" stroke="#111" stroke-width="0.93"/>
<line x1="537.2" y1="154.8" x2="530.4" y2="161.9" stroke="#111" stroke-width="0.93"/>
<line x1="543.5" y1="154.8" x2="536.6" y2="161.8" stroke="#111" stroke-width="0.93"/>
<line x1="545.4" y1="161.9" x2="538.6" y2="169.0" stroke="#111" stroke-width="0.93"/>
<line x1="545.6" y1="169.2" x2="538.7" y2="176.3" stroke="#111" stroke-width="0.93"/>
<line x1="545.7" y1="176.6" x2="538.8" y2="183.6" stroke="#111" stroke-width="0.93"/>
<line x1="607.8" y1="154.2" x2="601.0" y2="161.2" stroke="#111" stroke-width="0.93"/>
<line x1="614.3" y1="154.1" x2="607.5" y2="161.2" stroke="#111" stroke-width="0.93"/>
<line x1="620.8" y1="154.1" x2="614.0" y2="161.1" stroke="#111" stroke-width="0.93"/>
<line x1="627.3" y1="154.0" x2="620.5" y2="161.1" stroke="#111" stroke-width="0.93"/>
<line x1="605.8" y1="163.7" x2="599.6" y2="170.1" stroke="#111" stroke-width="0.93"/>
<line x1="605.9" y1="171.7" x2="599.7" y2="178.1" stroke="#111" stroke-width="0.93"/>
<line x1="622.8" y1="165.6" x2="623.8" y2="164.5" stroke="#111" stroke-width="0.93"/>
<line x1="604.0" y1="176.7" x2="605.0" y2="175.7" stroke="#111" stroke-width="0.93"/>
<polyline points="545.3,154.7 545.6,170.2 599.6,169.8 599.3,154.3" fill="none" stroke="#111" stroke-width="1.44" stroke-linejoin="miter"/>
<polyline points="547.6,170.2 547.8,180.3 595.7,179.9 595.6,169.8" fill="none" stroke="#111" stroke-width="1.44" stroke-linejoin="miter"/>
<polyline points="557.1,180.2 557.4,201.3" fill="none" stroke="#111" stroke-width="1.24" stroke-linejoin="miter"/>
<polyline points="585.6,180.0 586.0,201.1" fill="none" stroke="#111" stroke-width="1.24" stroke-linejoin="miter"/>
<line x1="557.4" y1="201.1" x2="586.0" y2="200.9" stroke="#111" stroke-width="0.85"/>
<rect x="561.5" y="184.2" width="20.2" height="6.1" rx="0" fill="#fff" stroke="#111" stroke-width="1.24"/>
<line x1="567.9" y1="184.1" x2="568.0" y2="190.2" stroke="#111" stroke-width="0.93"/>
<line x1="575.6" y1="184.1" x2="575.7" y2="190.2" stroke="#111" stroke-width="0.93"/>
<rect x="565.2" y="190.3" width="13.6" height="6.0" rx="0" fill="#fff" stroke="#111" stroke-width="1.24"/>
<line x1="569.7" y1="190.2" x2="569.8" y2="196.2" stroke="#111" stroke-width="0.93"/>
<line x1="574.7" y1="190.2" x2="574.8" y2="196.2" stroke="#111" stroke-width="0.93"/>
<line x1="572.9" y1="148.5" x2="573.3" y2="178.5" stroke="#111" stroke-width="0.93"/>
<polygon points="573.3,178.5 574.5,172.5 571.9,172.5" fill="#111" stroke="#111" stroke-width="0.85" stroke-linejoin="miter"/>
<polygon points="572.9,148.5 571.7,154.5 574.3,154.5" fill="#111" stroke="#111" stroke-width="0.85" stroke-linejoin="miter"/>
</g>
<g transform="translate(570 300) matrix(1 0.0088 -0.0175 1 0 0) translate(-570 -300)">
<polyline points="510.9,241.4 481.7,241.7 482.5,287.3 509.0,287.0" fill="none" stroke="#111" stroke-width="0.93" stroke-linejoin="miter"/>
<polyline points="629.3,240.4 654.4,240.2 655.2,285.8 630.6,286.0" fill="none" stroke="#111" stroke-width="0.93" stroke-linejoin="miter"/>
<line x1="493.1" y1="241.6" x2="493.9" y2="287.2" stroke="#111" stroke-width="0.85"/>
<line x1="646.8" y1="240.2" x2="647.6" y2="285.8" stroke="#111" stroke-width="0.85"/>
<rect x="510.8" y="236.4" width="118.4" height="8.8" rx="0" fill="#fff" stroke="#111" stroke-width="1.44"/>
<rect x="510.8" y="236.4" width="31.0" height="8.8" rx="0" fill="url(#h3)" stroke="#111" stroke-width="1.24"/>
<rect x="595.6" y="235.7" width="33.6" height="8.8" rx="0" fill="url(#h3)" stroke="#111" stroke-width="1.24"/>
<line x1="542.0" y1="240.2" x2="595.6" y2="239.8" stroke="#111" stroke-width="0.93"/>
<polygon points="502.7,245.3 539.6,245.0 556.6,279.8 503.4,280.3" fill="#fff" stroke="#111" stroke-width="1.65" stroke-linejoin="miter"/>
<polygon points="638.0,244.1 601.1,244.4 583.9,279.6 638.6,279.1" fill="#fff" stroke="#111" stroke-width="1.65" stroke-linejoin="miter"/>
<line x1="539.6" y1="245.0" x2="601.1" y2="244.4" stroke="#111" stroke-width="1.44"/>
<path d="M502.90 254.29 Q494.52 255.16 494.66 263.26 Q494.80 271.36 503.21 272.09" fill="none" stroke="#111" stroke-width="1.44" />
<path d="M638.18 253.10 Q646.59 253.83 646.73 261.92 Q646.88 270.02 638.49 270.90" fill="none" stroke="#111" stroke-width="1.44" />
<line x1="486.4" y1="263.7" x2="499.4" y2="263.6" stroke="#111" stroke-width="0.85"/>
<line x1="641.3" y1="262.4" x2="657.3" y2="262.2" stroke="#111" stroke-width="0.85"/>
<line x1="509.9" y1="263.8" x2="540.0" y2="263.6" stroke="#111" stroke-width="1.03"/>
<polygon points="540.0,263.6 532.9,262.2 533.0,265.0" fill="#111" stroke="#111" stroke-width="0.85" stroke-linejoin="miter"/>
<polygon points="509.9,263.8 516.9,265.2 516.8,262.4" fill="#111" stroke="#111" stroke-width="0.85" stroke-linejoin="miter"/>
<line x1="600.1" y1="263.0" x2="631.5" y2="262.8" stroke="#111" stroke-width="1.03"/>
<polygon points="631.5,262.8 624.5,261.4 624.6,264.2" fill="#111" stroke="#111" stroke-width="0.85" stroke-linejoin="miter"/>
<polygon points="600.1,263.0 607.1,264.4 607.0,261.6" fill="#111" stroke="#111" stroke-width="0.85" stroke-linejoin="miter"/>
<line x1="537.4" y1="268.3" x2="537.6" y2="279.3" stroke="#111" stroke-width="0.93" stroke-dasharray="2 1.2"/>
<line x1="540.9" y1="268.3" x2="541.1" y2="279.3" stroke="#111" stroke-width="0.93" stroke-dasharray="2 1.2"/>
<line x1="543.9" y1="268.2" x2="544.1" y2="279.2" stroke="#111" stroke-width="0.93" stroke-dasharray="2 1.2"/>
<line x1="593.9" y1="267.8" x2="594.1" y2="278.8" stroke="#111" stroke-width="0.93" stroke-dasharray="2 1.2"/>
<line x1="596.9" y1="267.8" x2="597.1" y2="278.8" stroke="#111" stroke-width="0.93" stroke-dasharray="2 1.2"/>
<line x1="600.4" y1="267.7" x2="600.6" y2="278.7" stroke="#111" stroke-width="0.93" stroke-dasharray="2 1.2"/>
<polygon points="549.4,256.6 590.4,256.2 590.5,261.8 581.6,279.6 559.1,279.8 549.5,262.2" fill="url(#h3)" stroke="#111" stroke-width="1.44" stroke-linejoin="miter"/>
<path d="M561.55 279.77 L561.25 263.08 Q561.21 260.58 563.71 260.56 L577.01 260.44 Q579.51 260.42 579.55 262.92 L579.84 279.61 Z" fill="#fff" stroke="#111" stroke-width="1.44" />
<path d="M564.13 279.05 L563.89 265.05 Q563.85 263.05 565.85 263.04 L572.85 262.97 Q574.85 262.96 574.89 264.96 L574.94 267.96" fill="none" stroke="#111" stroke-width="1.24" />
<line x1="562.0" y1="274.3" x2="579.0" y2="271.3" stroke="#111" stroke-width="2.06"/>
<line x1="562.1" y1="278.5" x2="579.1" y2="275.5" stroke="#111" stroke-width="2.06"/>
<line x1="562.2" y1="282.7" x2="579.1" y2="279.7" stroke="#111" stroke-width="2.06"/>
<line x1="562.3" y1="286.9" x2="579.2" y2="283.9" stroke="#111" stroke-width="2.06"/>
<line x1="562.3" y1="291.1" x2="579.3" y2="288.1" stroke="#111" stroke-width="2.06"/>
<line x1="562.4" y1="295.3" x2="579.4" y2="292.3" stroke="#111" stroke-width="2.06"/>
<rect x="555.2" y="279.8" width="30.1" height="28.7" rx="0" fill="url(#h2)" stroke="#111" stroke-width="1.34"/>
<rect x="561.5" y="279.8" width="18.3" height="28.7" rx="0" fill="#fff" stroke="#111" stroke-width="1.03"/>
<line x1="562.1" y1="278.3" x2="579.1" y2="275.3" stroke="#111" stroke-width="2.06"/>
<line x1="562.2" y1="282.5" x2="579.1" y2="279.5" stroke="#111" stroke-width="2.06"/>
<line x1="562.3" y1="286.7" x2="579.2" y2="283.7" stroke="#111" stroke-width="2.06"/>
<line x1="562.3" y1="290.9" x2="579.3" y2="287.9" stroke="#111" stroke-width="2.06"/>
<line x1="562.4" y1="295.1" x2="579.4" y2="292.1" stroke="#111" stroke-width="2.06"/>
<line x1="562.5" y1="299.3" x2="579.4" y2="296.3" stroke="#111" stroke-width="2.06"/>
<rect x="566.6" y="290.0" width="8.6" height="18.4" rx="0" fill="#fff" stroke="#111" stroke-width="1.03"/>
<rect x="548.6" y="287.5" width="6.8" height="4.7" rx="0" fill="url(#h2)" stroke="#111" stroke-width="1.24"/>
<rect x="585.5" y="287.2" width="4.1" height="4.7" rx="0" fill="url(#h2)" stroke="#111" stroke-width="1.24"/>
<rect x="561.5" y="298.1" width="4.0" height="10.4" rx="0" fill="#fff" stroke="#111" stroke-width="0.85"/>
<rect x="576.5" y="297.9" width="4.0" height="10.4" rx="0" fill="#fff" stroke="#111" stroke-width="0.85"/>
<path d="M518.54 291.05 L520.28 281.94 L522.44 291.02 L524.18 281.90 L526.34 290.98 L528.08 281.87 L530.24 290.95 L531.98 281.83 L534.04 290.92 L535.88 281.80 L537.94 290.88 L539.78 281.77 L541.84 290.85" fill="none" stroke="#111" stroke-width="1.54" />
<path d="M595.13 290.38 L596.97 281.26 L599.23 290.34 L601.07 281.23 L603.33 290.31 L605.17 281.19 L607.43 290.27 L609.27 281.15 L611.53 290.23 L613.47 281.12 L615.63 290.20 L617.57 281.08 L619.73 290.16" fill="none" stroke="#111" stroke-width="1.54" />
<rect x="510.2" y="280.2" width="8.2" height="13.6" rx="0" fill="url(#h2b)" stroke="#111" stroke-width="1.34"/>
<rect x="619.5" y="279.3" width="8.7" height="13.6" rx="0" fill="url(#h2b)" stroke="#111" stroke-width="1.34"/>
<line x1="541.6" y1="279.9" x2="549.6" y2="279.9" stroke="#111" stroke-width="1.34"/>
<line x1="590.6" y1="279.5" x2="595.6" y2="279.5" stroke="#111" stroke-width="1.34"/>
<path d="M509.07 292.54 L555.46 292.13 L555.75 308.53 L558.55 308.50 L559.28 350.29 L510.09 350.73 Z" fill="url(#h5)" stroke="#111" stroke-width="1.54" />
<path d="M630.65 291.47 L585.56 291.86 L585.84 308.26 L579.05 308.32 L579.78 350.11 L631.67 349.66 Z" fill="url(#h5)" stroke="#111" stroke-width="1.54" />
<line x1="482.5" y1="287.3" x2="509.0" y2="287.0" stroke="#111" stroke-width="1.34"/>
<line x1="630.6" y1="286.0" x2="657.8" y2="285.7" stroke="#111" stroke-width="1.34"/>
<line x1="483.8" y1="287.3" x2="490.4" y2="292.7" stroke="#111" stroke-width="0.93"/>
<line x1="489.8" y1="287.2" x2="496.4" y2="292.6" stroke="#111" stroke-width="0.93"/>
<line x1="495.8" y1="287.2" x2="502.4" y2="292.6" stroke="#111" stroke-width="0.93"/>
<line x1="501.8" y1="287.1" x2="508.4" y2="292.5" stroke="#111" stroke-width="0.93"/>
<line x1="502.4" y1="293.5" x2="509.2" y2="299.1" stroke="#111" stroke-width="0.93"/>
<line x1="502.5" y1="301.2" x2="509.3" y2="306.9" stroke="#111" stroke-width="0.93"/>
<line x1="502.7" y1="309.0" x2="509.5" y2="314.6" stroke="#111" stroke-width="0.93"/>
<line x1="502.8" y1="316.7" x2="509.6" y2="322.4" stroke="#111" stroke-width="0.93"/>
<line x1="502.9" y1="324.5" x2="509.7" y2="330.1" stroke="#111" stroke-width="0.93"/>
<line x1="503.1" y1="332.2" x2="509.9" y2="337.9" stroke="#111" stroke-width="0.93"/>
<line x1="503.2" y1="340.0" x2="510.0" y2="345.6" stroke="#111" stroke-width="0.93"/>
<line x1="503.3" y1="347.7" x2="510.1" y2="353.4" stroke="#111" stroke-width="0.93"/>
<line x1="636.4" y1="285.9" x2="643.0" y2="291.4" stroke="#111" stroke-width="0.93"/>
<line x1="643.6" y1="285.9" x2="650.2" y2="291.3" stroke="#111" stroke-width="0.93"/>
<line x1="650.9" y1="285.8" x2="657.5" y2="291.2" stroke="#111" stroke-width="0.93"/>
<line x1="658.1" y1="285.7" x2="664.7" y2="291.2" stroke="#111" stroke-width="0.93"/>
<line x1="630.7" y1="291.5" x2="637.8" y2="297.4" stroke="#111" stroke-width="0.93"/>
<line x1="630.8" y1="299.5" x2="637.9" y2="305.4" stroke="#111" stroke-width="0.93"/>
<line x1="630.9" y1="307.5" x2="638.0" y2="313.4" stroke="#111" stroke-width="0.93"/>
<line x1="631.1" y1="315.5" x2="638.2" y2="321.4" stroke="#111" stroke-width="0.93"/>
<line x1="631.2" y1="323.5" x2="638.3" y2="329.4" stroke="#111" stroke-width="0.93"/>
<line x1="631.4" y1="331.5" x2="638.5" y2="337.4" stroke="#111" stroke-width="0.93"/>
<line x1="631.5" y1="339.5" x2="638.6" y2="345.4" stroke="#111" stroke-width="0.93"/>
<line x1="631.6" y1="347.5" x2="638.7" y2="353.4" stroke="#111" stroke-width="0.93"/>
<circle cx="547.1" cy="329.9" r="14.6" fill="#fff" stroke="#111" stroke-width="1.54"/>
<circle cx="547.1" cy="329.9" r="12.3" fill="none" stroke="#111" stroke-width="1.03"/>
<circle cx="547.1" cy="329.9" r="7.6" fill="url(#h2)" stroke="#111" stroke-width="1.44"/>
<circle cx="547.1" cy="329.9" r="7.6" fill="rgba(0,0,0,0.3)" stroke="#111" stroke-width="0.00"/>
<line x1="546.9" y1="318.2" x2="547.3" y2="342.2" stroke="#111" stroke-width="0.85"/>
<line x1="535.5" y1="330.0" x2="558.5" y2="329.8" stroke="#111" stroke-width="0.85"/>
<path d="M558.62 312.60 L579.12 312.42 L579.93 358.91 Q579.98 361.61 577.08 361.64 L562.48 361.77 Q559.48 361.79 559.43 359.09 Z" fill="#fff" stroke="#111" stroke-width="1.65" />
<line x1="561.7" y1="313.1" x2="562.6" y2="361.1" stroke="#111" stroke-width="0.93"/>
<line x1="563.7" y1="313.1" x2="564.6" y2="361.0" stroke="#111" stroke-width="0.93"/>
<line x1="575.7" y1="312.9" x2="576.6" y2="360.9" stroke="#111" stroke-width="0.93"/>
<line x1="559.4" y1="357.6" x2="579.9" y2="357.4" stroke="#111" stroke-width="0.85" stroke-dasharray="2 1"/>
<line x1="570.1" y1="231.8" x2="570.1" y2="365.8" stroke="#111" stroke-width="0.85" stroke-dasharray="16 2 2 2"/>
</g>
<g transform="translate(566 460) matrix(1 0.0088 -0.0175 1 0 0) translate(-566 -460)">
<polyline points="527.1,417.8 529.0,410.0 535.4,405.0 596.9,404.4 603.1,409.8 604.8,417.2" fill="none" stroke="#111" stroke-width="1.54" stroke-linejoin="miter"/>
<rect x="552.7" y="404.8" width="27.0" height="5.8" rx="0" fill="url(#h2)" stroke="#111" stroke-width="1.24"/>
<rect x="552.7" y="404.8" width="27.0" height="5.8" rx="0" fill="rgba(0,0,0,0.2)" stroke="#111" stroke-width="0.00"/>
<polyline points="555.6,410.6 560.3,421.0" fill="none" stroke="#111" stroke-width="1.13" stroke-linejoin="miter"/>
<polyline points="576.6,410.4 571.3,421.0" fill="none" stroke="#111" stroke-width="1.13" stroke-linejoin="miter"/>
<polygon points="516.4,425.6 520.6,421.3 538.9,417.9 542.2,422.8 548.7,422.8 556.1,416.7 562.4,424.0 555.5,429.1 547.9,435.1 540.3,439.4 530.6,439.5 527.3,429.8 518.6,428.9" fill="#fff" stroke="#111" stroke-width="1.54" stroke-linejoin="miter"/>
<polygon points="614.8,425.3 610.4,421.0 592.1,418.0 588.9,422.9 582.4,423.0 574.7,417.0 568.8,424.5 575.9,429.4 583.7,435.2 591.3,439.5 601.0,439.4 604.1,429.7 612.8,428.6" fill="#fff" stroke="#111" stroke-width="1.54" stroke-linejoin="miter"/>
<polyline points="527.1,417.8 530.2,415.8 540.2,413.7 543.3,419.7 547.3,419.7" fill="none" stroke="#111" stroke-width="1.24" stroke-linejoin="miter"/>
<polyline points="604.8,417.5 600.7,415.7 590.7,413.8 587.8,419.8 583.8,419.8" fill="none" stroke="#111" stroke-width="1.24" stroke-linejoin="miter"/>
<polygon points="536.5,428.9 540.5,433.0 536.6,437.3 532.5,433.1" fill="#111" stroke="#111" stroke-width="0.85" stroke-linejoin="miter"/>
<line x1="530.0" y1="433.1" x2="543.0" y2="433.0" stroke="#111" stroke-width="0.85"/>
<line x1="536.4" y1="426.6" x2="536.6" y2="439.6" stroke="#111" stroke-width="0.85"/>
<polygon points="593.7,428.4 597.8,432.5 593.9,436.8 589.8,432.6" fill="#111" stroke="#111" stroke-width="0.85" stroke-linejoin="miter"/>
<line x1="587.3" y1="432.6" x2="600.3" y2="432.5" stroke="#111" stroke-width="0.85"/>
<line x1="593.7" y1="426.1" x2="593.9" y2="439.1" stroke="#111" stroke-width="0.85"/>
<circle cx="565.5" cy="432.8" r="7.2" fill="#fff" stroke="#111" stroke-width="1.54"/>
<circle cx="565.5" cy="432.8" r="4.6" fill="none" stroke="#111" stroke-width="1.24"/>
<circle cx="565.5" cy="432.8" r="2.6" fill="#111" stroke="#111" stroke-width="0.85"/>
<line x1="555.5" y1="432.9" x2="575.5" y2="432.7" stroke="#111" stroke-width="0.85"/>
<polyline points="556.1,436.1 556.2,443.0" fill="none" stroke="#111" stroke-width="1.24" stroke-linejoin="miter"/>
<polyline points="575.1,435.9 575.2,442.8" fill="none" stroke="#111" stroke-width="1.24" stroke-linejoin="miter"/>
<polygon points="501.4,430.8 526.2,429.4 525.9,440.7 500.5,441.8" fill="#fff" stroke="#111" stroke-width="1.44" stroke-linejoin="miter"/>
<polygon points="603.5,429.7 628.7,430.4 630.0,440.9 604.2,440.5" fill="#fff" stroke="#111" stroke-width="1.44" stroke-linejoin="miter"/>
<polyline points="510.2,441.9 510.4,455.9" fill="none" stroke="#111" stroke-width="1.34" stroke-linejoin="miter"/>
<polyline points="620.3,440.9 620.5,454.9" fill="none" stroke="#111" stroke-width="1.34" stroke-linejoin="miter"/>
<line x1="510.2" y1="441.7" x2="552.3" y2="441.3" stroke="#111" stroke-width="1.13"/>
<line x1="579.3" y1="441.3" x2="620.3" y2="441.1" stroke="#111" stroke-width="1.13"/>
<polygon points="511.4,448.1 552.3,445.5 552.5,455.5 511.5,455.9" fill="url(#h3b)" stroke="#111" stroke-width="1.34" stroke-linejoin="miter"/>
<polygon points="620.4,447.5 579.3,445.5 579.5,455.5 620.5,455.1" fill="url(#h3b)" stroke="#111" stroke-width="1.34" stroke-linejoin="miter"/>
<rect x="552.3" y="443.0" width="27.0" height="5.6" rx="0" fill="url(#h2)" stroke="#111" stroke-width="1.24"/>
<rect x="552.3" y="443.0" width="27.0" height="5.6" rx="0" fill="rgba(0,0,0,0.2)" stroke="#111" stroke-width="0.00"/>
<line x1="499.6" y1="456.7" x2="543.9" y2="456.3" stroke="#111" stroke-width="1.54"/>
<line x1="587.0" y1="456.1" x2="630.2" y2="455.9" stroke="#111" stroke-width="1.54"/>
<line x1="509.4" y1="457.0" x2="502.1" y2="463.6" stroke="#111" stroke-width="0.93"/>
<line x1="516.4" y1="456.9" x2="509.1" y2="463.5" stroke="#111" stroke-width="0.93"/>
<line x1="523.4" y1="456.9" x2="516.1" y2="463.4" stroke="#111" stroke-width="0.93"/>
<line x1="530.4" y1="456.8" x2="523.1" y2="463.4" stroke="#111" stroke-width="0.93"/>
<line x1="537.4" y1="456.8" x2="530.1" y2="463.3" stroke="#111" stroke-width="0.93"/>
<line x1="544.4" y1="456.7" x2="537.1" y2="463.3" stroke="#111" stroke-width="0.93"/>
<line x1="598.4" y1="456.2" x2="591.0" y2="462.8" stroke="#111" stroke-width="0.93"/>
<line x1="605.4" y1="456.2" x2="598.0" y2="462.7" stroke="#111" stroke-width="0.93"/>
<line x1="612.4" y1="456.1" x2="605.0" y2="462.7" stroke="#111" stroke-width="0.93"/>
<line x1="619.4" y1="456.0" x2="612.0" y2="462.6" stroke="#111" stroke-width="0.93"/>
<line x1="626.4" y1="456.0" x2="619.0" y2="462.5" stroke="#111" stroke-width="0.93"/>
<line x1="633.4" y1="455.9" x2="626.0" y2="462.5" stroke="#111" stroke-width="0.93"/>
<rect x="543.9" y="456.3" width="7.5" height="31.7" rx="0" fill="url(#h3b)" stroke="#111" stroke-width="1.34"/>
<rect x="579.5" y="456.0" width="7.5" height="31.7" rx="0" fill="url(#h3b)" stroke="#111" stroke-width="1.34"/>
<circle cx="545.6" cy="456.1" r="1.5" fill="#fff" stroke="#111" stroke-width="0.93"/>
<circle cx="585.1" cy="455.7" r="1.5" fill="#fff" stroke="#111" stroke-width="0.93"/>
<path d="M551.30 448.63 L579.40 448.38 L579.95 479.88 Q579.99 482.28 577.39 482.30 L554.39 482.50 Q551.89 482.52 551.85 480.12 Z" fill="#fff" stroke="#111" stroke-width="1.54" />
<line x1="551.8" y1="479.6" x2="579.9" y2="479.4" stroke="#111" stroke-width="0.93"/>
<line x1="565.9" y1="457.6" x2="566.1" y2="478.1" stroke="#111" stroke-width="0.93"/>
<polygon points="566.1,478.1 567.6,471.1 564.4,471.1" fill="#111" stroke="#111" stroke-width="0.85" stroke-linejoin="miter"/>
<polygon points="565.9,457.6 564.3,464.6 567.5,464.6" fill="#111" stroke="#111" stroke-width="0.85" stroke-linejoin="miter"/>
<line x1="544.0" y1="461.8" x2="536.6" y2="468.3" stroke="#111" stroke-width="0.93"/>
<line x1="544.2" y1="468.9" x2="536.8" y2="475.5" stroke="#111" stroke-width="0.93"/>
<line x1="544.3" y1="476.0" x2="536.9" y2="482.6" stroke="#111" stroke-width="0.93"/>
<line x1="544.4" y1="483.2" x2="537.0" y2="489.8" stroke="#111" stroke-width="0.93"/>
<line x1="544.5" y1="490.3" x2="537.1" y2="496.9" stroke="#111" stroke-width="0.93"/>
<line x1="544.7" y1="497.5" x2="537.3" y2="504.0" stroke="#111" stroke-width="0.93"/>
<line x1="544.8" y1="504.6" x2="537.4" y2="511.2" stroke="#111" stroke-width="0.93"/>
<line x1="587.1" y1="461.4" x2="594.5" y2="454.8" stroke="#111" stroke-width="0.93"/>
<line x1="587.2" y1="468.5" x2="594.6" y2="462.0" stroke="#111" stroke-width="0.93"/>
<line x1="587.4" y1="475.7" x2="594.8" y2="469.1" stroke="#111" stroke-width="0.93"/>
<line x1="587.5" y1="482.8" x2="594.9" y2="476.2" stroke="#111" stroke-width="0.93"/>
<line x1="587.6" y1="490.0" x2="595.0" y2="483.4" stroke="#111" stroke-width="0.93"/>
<line x1="587.7" y1="497.1" x2="595.1" y2="490.5" stroke="#111" stroke-width="0.93"/>
<line x1="587.9" y1="504.2" x2="595.3" y2="497.7" stroke="#111" stroke-width="0.93"/>
<line x1="544.5" y1="488.0" x2="544.8" y2="507.4" stroke="#111" stroke-width="1.44"/>
<line x1="587.6" y1="487.6" x2="587.9" y2="507.0" stroke="#111" stroke-width="1.44"/>
<polyline points="546.5,491.2 546.8,507.4" fill="none" stroke="#111" stroke-width="1.03" stroke-linejoin="miter"/>
<polyline points="585.5,490.8 585.8,507.0" fill="none" stroke="#111" stroke-width="1.03" stroke-linejoin="miter"/>
<line x1="546.5" y1="491.2" x2="585.5" y2="490.8" stroke="#111" stroke-width="1.13"/>
<line x1="552.0" y1="487.9" x2="552.0" y2="491.1" stroke="#111" stroke-width="1.03"/>
<line x1="580.1" y1="487.7" x2="580.1" y2="490.9" stroke="#111" stroke-width="1.03"/>
<rect x="561.7" y="486.7" width="7.6" height="8.7" rx="0" fill="#fff" stroke="#111" stroke-width="1.03"/>
<line x1="563.5" y1="486.7" x2="563.6" y2="495.4" stroke="#111" stroke-width="0.85"/>
<line x1="565.5" y1="486.7" x2="565.6" y2="495.4" stroke="#111" stroke-width="0.85"/>
<line x1="567.5" y1="486.7" x2="567.6" y2="495.4" stroke="#111" stroke-width="0.85"/>
<rect x="558.1" y="495.5" width="15.6" height="5.4" rx="0" fill="#fff" stroke="#111" stroke-width="1.24"/>
<line x1="562.6" y1="495.4" x2="562.7" y2="500.8" stroke="#111" stroke-width="0.85"/>
<line x1="569.1" y1="495.4" x2="569.2" y2="500.8" stroke="#111" stroke-width="0.85"/>
<rect x="556.2" y="500.9" width="19.5" height="3.2" rx="0" fill="#fff" stroke="#111" stroke-width="1.13"/>
<line x1="541.5" y1="507.4" x2="589.0" y2="507.0" stroke="#111" stroke-width="1.54"/>
<line x1="541.6" y1="509.6" x2="589.1" y2="509.2" stroke="#111" stroke-width="1.03"/>
<line x1="541.5" y1="504.4" x2="589.0" y2="504.0" stroke="#111" stroke-width="0.93"/>
<line x1="526.5" y1="509.7" x2="541.6" y2="509.6" stroke="#111" stroke-width="1.34"/>
<line x1="589.1" y1="509.4" x2="603.9" y2="509.5" stroke="#111" stroke-width="1.34"/>
<line x1="533.4" y1="509.7" x2="526.5" y2="515.7" stroke="#111" stroke-width="0.93"/>
<line x1="540.4" y1="509.6" x2="533.5" y2="515.7" stroke="#111" stroke-width="0.93"/>
<line x1="599.4" y1="509.5" x2="592.5" y2="515.6" stroke="#111" stroke-width="0.93"/>
<line x1="606.4" y1="509.4" x2="599.5" y2="515.5" stroke="#111" stroke-width="0.93"/>
<polyline points="536.2,509.7 536.3,518.3 594.6,518.1 594.5,509.5" fill="none" stroke="#111" stroke-width="1.24" stroke-linejoin="miter"/>
<line x1="536.2" y1="512.1" x2="594.5" y2="511.7" stroke="#111" stroke-width="0.93"/>
<line x1="566.0" y1="399.3" x2="566.1" y2="520.5" stroke="#111" stroke-width="0.85" stroke-dasharray="16 2 2 2"/>
</g>
<g transform="translate(562 620) matrix(1 0.0088 -0.0175 1 0 0) translate(-562 -620)">
<polyline points="519.8,624.0 490.5,624.0 491.4,678.7 523.6,678.4" fill="none" stroke="#111" stroke-width="1.44" stroke-linejoin="miter"/>
<polyline points="605.6,623.5 632.1,623.5" fill="none" stroke="#111" stroke-width="1.44" stroke-linejoin="miter"/>
<polyline points="600.7,678.0 633.0,677.9" fill="none" stroke="#111" stroke-width="1.44" stroke-linejoin="miter"/>
<line x1="519.8" y1="624.0" x2="520.7" y2="678.5" stroke="#111" stroke-width="1.24"/>
<line x1="605.6" y1="623.5" x2="606.5" y2="677.9" stroke="#111" stroke-width="1.24"/>
<line x1="632.1" y1="623.5" x2="632.5" y2="677.9" stroke="#111" stroke-width="0.93"/>
<rect x="563.2" y="546.3" width="9.2" height="7.5" rx="0" fill="#fff" stroke="#111" stroke-width="1.24"/>
<rect x="563.3" y="553.8" width="9.2" height="7.5" rx="0" fill="#fff" stroke="#111" stroke-width="1.24"/>
<rect x="572.5" y="553.7" width="6.9" height="7.5" rx="0" fill="#fff" stroke="#111" stroke-width="1.24"/>
<rect x="563.5" y="561.3" width="9.2" height="7.5" rx="0" fill="#fff" stroke="#111" stroke-width="1.24"/>
<rect x="572.7" y="561.2" width="6.9" height="7.5" rx="0" fill="#fff" stroke="#111" stroke-width="1.24"/>
<rect x="554.4" y="568.9" width="9.2" height="5.7" rx="0" fill="#fff" stroke="#111" stroke-width="1.24"/>
<rect x="563.6" y="568.8" width="9.2" height="5.7" rx="0" fill="#fff" stroke="#111" stroke-width="1.24"/>
<rect x="546.5" y="574.6" width="8.6" height="8.7" rx="0" fill="#fff" stroke="#111" stroke-width="1.24"/>
<rect x="555.1" y="574.6" width="8.6" height="8.7" rx="0" fill="#fff" stroke="#111" stroke-width="1.24"/>
<rect x="546.7" y="583.3" width="8.6" height="7.4" rx="0" fill="#fff" stroke="#111" stroke-width="1.24"/>
<rect x="555.3" y="583.3" width="8.6" height="7.4" rx="0" fill="#fff" stroke="#111" stroke-width="1.24"/>
<polygon points="541.6,590.8 550.8,590.7 550.9,600.0 546.7,600.0" fill="url(#h2)" stroke="#111" stroke-width="1.13" stroke-linejoin="miter"/>
<rect x="550.8" y="590.7" width="5.7" height="18.5" rx="0" fill="#fff" stroke="#111" stroke-width="1.13"/>
<rect x="556.5" y="590.6" width="7.5" height="18.5" rx="0" fill="#fff" stroke="#111" stroke-width="1.03"/>
<rect x="554.1" y="609.1" width="17.8" height="65.7" rx="0" fill="#fff" stroke="none" stroke-width="0.00"/>
<rect x="563.6" y="568.8" width="7.6" height="40.2" rx="0" fill="#fff" stroke="#111" stroke-width="1.24"/>
<line x1="570.0" y1="568.7" x2="570.2" y2="581.9" stroke="#111" stroke-width="0.93"/>
<line x1="566.1" y1="568.8" x2="566.3" y2="582.0" stroke="#111" stroke-width="0.93"/>
<line x1="554.0" y1="600.1" x2="555.3" y2="674.8" stroke="#111" stroke-width="1.44"/>
<line x1="571.3" y1="574.9" x2="573.1" y2="674.6" stroke="#111" stroke-width="1.44"/>
<line x1="556.1" y1="600.1" x2="556.5" y2="625.0" stroke="#111" stroke-width="0.93"/>
<polygon points="572.8,568.7 582.0,568.6 582.1,572.6 575.2,574.4 573.0,578.9" fill="url(#h2)" stroke="#111" stroke-width="1.13" stroke-linejoin="miter"/>
<polygon points="521.7,609.0 522.1,601.6 530.1,595.9 541.4,595.8 550.5,603.1 550.6,608.7" fill="url(#h4b)" stroke="#111" stroke-width="1.44" stroke-linejoin="miter"/>
<polygon points="575.2,574.4 582.1,572.6 591.3,572.5 602.9,579.9 603.5,586.8 573.7,587.7 573.6,579.0" fill="url(#h4b)" stroke="#111" stroke-width="1.44" stroke-linejoin="miter"/>
<line x1="571.5" y1="587.7" x2="572.2" y2="623.9" stroke="#111" stroke-width="1.24"/>
<line x1="580.0" y1="587.6" x2="580.7" y2="623.8" stroke="#111" stroke-width="1.03"/>
<line x1="576.2" y1="599.9" x2="576.7" y2="623.9" stroke="#111" stroke-width="0.93"/>
<path d="M507.08 618.88 Q507.39 613.48 512.17 612.54 Q516.82 609.70 521.33 610.16 Q527.83 610.30 532.90 614.06 Q538.46 617.71 541.06 623.18 L542.36 628.97 L534.24 627.84 Q532.08 624.76 529.56 623.29 Q525.01 620.83 521.52 621.06 Q518.05 622.89 514.65 622.82 Q510.55 622.95 507.72 621.18 Z" fill="#fff" stroke="#111" stroke-width="1.54" />
<circle cx="535.4" cy="626.7" r="4.2" fill="#fff" stroke="#111" stroke-width="1.24"/>
<circle cx="535.4" cy="626.7" r="2.6" fill="#111" stroke="#111" stroke-width="0.85"/>
<path d="M600.79 590.86 Q591.46 589.24 585.58 595.79 Q579.68 601.84 579.30 608.85 L580.56 617.84 L587.47 618.28 Q586.86 611.78 589.78 607.26 Q593.70 602.72 598.64 599.68 Q602.60 597.14 602.04 593.65 Z" fill="#fff" stroke="#111" stroke-width="1.54" />
<circle cx="588.6" cy="615.2" r="4.2" fill="#fff" stroke="#111" stroke-width="1.24"/>
<circle cx="588.6" cy="615.2" r="2.6" fill="#111" stroke="#111" stroke-width="0.85"/>
<line x1="580.4" y1="607.7" x2="594.2" y2="607.6" stroke="#111" stroke-width="0.93" stroke-dasharray="3 1.5"/>
<polygon points="526.8,631.9 531.2,631.9 535.7,631.2 543.5,629.0 543.9,654.9 527.2,655.0" fill="url(#h3b)" stroke="#111" stroke-width="1.34" stroke-linejoin="miter"/>
<line x1="528.6" y1="626.3" x2="541.4" y2="640.2" stroke="#111" stroke-width="1.03"/>
<line x1="529.4" y1="640.8" x2="540.6" y2="627.7" stroke="#111" stroke-width="1.03"/>
<rect x="544.6" y="623.2" width="6.9" height="48.3" rx="0" fill="url(#h2)" stroke="#111" stroke-width="1.24"/>
<rect x="573.4" y="622.9" width="7.3" height="48.3" rx="0" fill="url(#h2)" stroke="#111" stroke-width="1.24"/>
<polygon points="581.3,621.5 597.4,621.4 597.8,645.6 581.8,645.7" fill="url(#h3b)" stroke="#111" stroke-width="1.34" stroke-linejoin="miter"/>
<line x1="597.2" y1="609.7" x2="597.4" y2="621.7" stroke="#111" stroke-width="1.24"/>
<line x1="583.0" y1="619.3" x2="596.2" y2="631.7" stroke="#111" stroke-width="1.03"/>
<line x1="523.0" y1="662.4" x2="544.2" y2="657.7" stroke="#111" stroke-width="1.44"/>
<line x1="523.1" y1="664.3" x2="544.2" y2="660.0" stroke="#111" stroke-width="1.44"/>
<line x1="523.1" y1="666.2" x2="544.2" y2="662.3" stroke="#111" stroke-width="1.44"/>
<line x1="523.1" y1="668.1" x2="544.3" y2="664.6" stroke="#111" stroke-width="1.44"/>
<line x1="523.2" y1="670.0" x2="544.3" y2="666.9" stroke="#111" stroke-width="1.44"/>
<line x1="581.1" y1="650.8" x2="596.7" y2="661.7" stroke="#111" stroke-width="1.44"/>
<line x1="581.2" y1="653.4" x2="596.8" y2="663.9" stroke="#111" stroke-width="1.44"/>
<line x1="581.2" y1="656.0" x2="596.8" y2="666.1" stroke="#111" stroke-width="1.44"/>
<line x1="581.3" y1="658.6" x2="596.8" y2="668.3" stroke="#111" stroke-width="1.44"/>
<line x1="581.3" y1="661.2" x2="596.9" y2="670.5" stroke="#111" stroke-width="1.44"/>
<line x1="523.0" y1="661.3" x2="523.2" y2="671.3" stroke="#111" stroke-width="1.03"/>
<line x1="597.0" y1="660.7" x2="597.2" y2="671.7" stroke="#111" stroke-width="1.03"/>
<path d="M523.60 677.34 L523.53 673.34 Q523.89 671.14 526.89 671.11 L548.89 670.92 L551.96 674.79 L575.96 674.58 L578.89 670.65 L597.88 670.48 Q600.58 670.46 600.62 672.66 L600.69 676.66" fill="#fff" stroke="#111" stroke-width="1.34" />
<line x1="508.1" y1="678.8" x2="618.0" y2="678.4" stroke="#111" stroke-width="1.34"/>
<path d="M504.68 681.60 L621.07 681.18 L621.17 687.08 Q601.19 688.26 581.17 687.13 Q561.16 686.41 541.18 687.48 Q521.20 688.36 504.78 687.40 Z" fill="#fff" stroke="#111" stroke-width="1.34" />
<line x1="509.0" y1="678.8" x2="509.1" y2="681.7" stroke="#111" stroke-width="0.93"/>
<line x1="617.0" y1="678.5" x2="617.1" y2="681.2" stroke="#111" stroke-width="0.93"/>
<line x1="562.8" y1="621.3" x2="563.2" y2="649.5" stroke="#111" stroke-width="0.93"/>
<polygon points="563.2,649.5 564.6,643.0 561.6,643.0" fill="#111" stroke="#111" stroke-width="0.85" stroke-linejoin="miter"/>
<polygon points="562.8,621.3 561.4,627.8 564.4,627.8" fill="#111" stroke="#111" stroke-width="0.85" stroke-linejoin="miter"/>
<line x1="563.3" y1="546.9" x2="563.3" y2="689.6" stroke="#111" stroke-width="0.85" stroke-dasharray="16 2 2 2"/>
</g>
<g transform="translate(428 780) matrix(1 0.0088 -0.0175 1 0 0) translate(-428 -780)">
<path d="M383.48 721.89 L359.39 722.10 Q360.54 730.59 359.31 740.60 Q361.12 752.59 360.11 763.50 L384.21 763.29" fill="#fff" stroke="#111" stroke-width="1.34" />
<path d="M469.87 721.13 L493.97 720.92 Q495.11 729.41 493.89 739.42 Q495.50 751.41 494.69 762.31 L470.59 762.53" fill="#fff" stroke="#111" stroke-width="1.34" />
<line x1="383.5" y1="721.9" x2="384.2" y2="763.3" stroke="#111" stroke-width="1.34"/>
<line x1="469.9" y1="721.1" x2="470.6" y2="762.5" stroke="#111" stroke-width="1.34"/>
<rect x="414.6" y="721.6" width="26.0" height="42.6" rx="0" fill="#fff" stroke="#111" stroke-width="1.34"/>
<line x1="414.6" y1="724.6" x2="440.6" y2="724.4" stroke="#111" stroke-width="1.03"/>
<polygon points="388.8,764.4 388.0,719.6 376.4,719.7 373.3,718.7 373.1,716.0 375.3,714.0 390.1,705.0 405.1,704.9 408.7,706.2 414.6,720.4 415.3,764.2" fill="#fff" stroke="#111" stroke-width="1.54" stroke-linejoin="miter"/>
<polyline points="391.3,722.3 392.0,764.3" fill="none" stroke="#111" stroke-width="0.93" stroke-linejoin="miter"/>
<line x1="404.3" y1="726.2" x2="404.4" y2="733.2" stroke="#111" stroke-width="8" stroke-linecap="round"/>
<line x1="404.3" y1="726.2" x2="404.4" y2="733.2" stroke="#fff" stroke-width="5.4" stroke-linecap="round"/>
<rect x="402.5" y="728.7" width="3.6" height="9.0" rx="0" fill="#222" stroke="#111" stroke-width="0.85"/>
<polygon points="401.8,737.2 392.0,750.3 395.1,754.3 399.5,753.3 407.8,738.2" fill="#fff" stroke="#111" stroke-width="1.34" stroke-linejoin="miter"/>
<polygon points="391.0,759.3 412.7,746.6 412.8,751.1 391.1,763.8" fill="url(#h2b)" stroke="#111" stroke-width="1.03" stroke-linejoin="miter"/>
<polyline points="395.7,764.4 415.1,753.6" fill="none" stroke="#111" stroke-width="1.03" stroke-linejoin="miter"/>
<polygon points="467.2,763.8 466.4,718.9 478.0,718.8 481.1,717.7 481.3,715.0 478.9,713.1 463.9,704.4 448.9,704.5 445.3,705.8 440.0,720.2 440.7,764.0" fill="#fff" stroke="#111" stroke-width="1.54" stroke-linejoin="miter"/>
<polyline points="463.3,721.7 464.0,763.7" fill="none" stroke="#111" stroke-width="0.93" stroke-linejoin="miter"/>
<line x1="450.5" y1="725.8" x2="450.6" y2="732.8" stroke="#111" stroke-width="8" stroke-linecap="round"/>
<line x1="450.5" y1="725.8" x2="450.6" y2="732.8" stroke="#fff" stroke-width="5.4" stroke-linecap="round"/>
<rect x="448.7" y="728.3" width="3.6" height="9.0" rx="0" fill="#222" stroke="#111" stroke-width="0.85"/>
<polygon points="453.3,736.8 463.6,749.7 460.6,753.7 456.1,752.8 447.4,737.8" fill="#fff" stroke="#111" stroke-width="1.34" stroke-linejoin="miter"/>
<polygon points="464.8,758.7 442.7,746.4 442.8,750.9 464.9,763.2" fill="url(#h2)" stroke="#111" stroke-width="1.03" stroke-linejoin="miter"/>
<polyline points="460.3,763.8 440.5,753.4" fill="none" stroke="#111" stroke-width="1.03" stroke-linejoin="miter"/>
<rect x="363.5" y="764.7" width="19.0" height="13.8" rx="0" fill="url(#h3b)" stroke="#111" stroke-width="1.34"/>
<rect x="473.2" y="763.7" width="17.5" height="13.8" rx="0" fill="url(#h3b)" stroke="#111" stroke-width="1.34"/>
<rect x="363.8" y="778.5" width="16.1" height="10.3" rx="0" fill="url(#h3)" stroke="#111" stroke-width="1.34"/>
<rect x="474.3" y="777.5" width="16.1" height="10.3" rx="0" fill="url(#h3)" stroke="#111" stroke-width="1.34"/>
<line x1="385.4" y1="764.5" x2="470.6" y2="763.7" stroke="#111" stroke-width="1.34"/>
<line x1="380.1" y1="788.6" x2="474.4" y2="787.8" stroke="#111" stroke-width="1.44"/>
<line x1="379.9" y1="779.4" x2="390.0" y2="779.3" stroke="#111" stroke-width="1.03"/>
<line x1="463.0" y1="778.7" x2="474.3" y2="778.6" stroke="#111" stroke-width="1.03"/>
<rect x="389.3" y="766.6" width="74.5" height="19.8" rx="9.5" fill="#fff" stroke="#111" stroke-width="1.54"/>
<line x1="385.4" y1="764.5" x2="385.7" y2="779.4" stroke="#111" stroke-width="1.24"/>
<line x1="470.6" y1="763.7" x2="470.9" y2="778.6" stroke="#111" stroke-width="1.24"/>
<circle cx="399.4" cy="776.3" r="7.6" fill="#fff" stroke="#111" stroke-width="1.24"/>
<circle cx="399.4" cy="776.3" r="5.4" fill="none" stroke="#111" stroke-width="1.75"/>
<circle cx="399.4" cy="776.3" r="3.4" fill="#222" stroke="#111" stroke-width="0.85"/>
<line x1="389.9" y1="776.3" x2="408.9" y2="776.2" stroke="#111" stroke-width="0.85"/>
<line x1="399.3" y1="766.3" x2="399.6" y2="786.7" stroke="#111" stroke-width="0.85"/>
<circle cx="428.2" cy="776.0" r="7.6" fill="#fff" stroke="#111" stroke-width="1.24"/>
<circle cx="428.2" cy="776.0" r="5.4" fill="none" stroke="#111" stroke-width="1.75"/>
<circle cx="428.2" cy="776.0" r="3.4" fill="#222" stroke="#111" stroke-width="0.85"/>
<line x1="418.7" y1="776.1" x2="437.7" y2="775.9" stroke="#111" stroke-width="0.85"/>
<line x1="428.1" y1="766.0" x2="428.4" y2="786.5" stroke="#111" stroke-width="0.85"/>
<circle cx="453.0" cy="775.8" r="7.6" fill="#fff" stroke="#111" stroke-width="1.24"/>
<circle cx="453.0" cy="775.8" r="5.4" fill="none" stroke="#111" stroke-width="1.75"/>
<circle cx="453.0" cy="775.8" r="3.4" fill="#222" stroke="#111" stroke-width="0.85"/>
<line x1="443.5" y1="775.9" x2="462.5" y2="775.7" stroke="#111" stroke-width="0.85"/>
<line x1="452.9" y1="765.8" x2="453.2" y2="786.3" stroke="#111" stroke-width="0.85"/>
<line x1="407.8" y1="770.2" x2="419.8" y2="770.1" stroke="#111" stroke-width="1.03"/>
<line x1="408.0" y1="782.2" x2="420.0" y2="782.1" stroke="#111" stroke-width="1.03"/>
<line x1="436.8" y1="769.9" x2="444.8" y2="769.9" stroke="#111" stroke-width="1.03"/>
<line x1="437.0" y1="781.9" x2="445.0" y2="781.9" stroke="#111" stroke-width="1.03"/>
<line x1="399.6" y1="786.2" x2="399.7" y2="794.2" stroke="#111" stroke-width="0.85" stroke-dasharray="4 1.5"/>
<line x1="453.2" y1="785.8" x2="453.3" y2="793.8" stroke="#111" stroke-width="0.85" stroke-dasharray="4 1.5"/>
<rect x="369.1" y="788.7" width="5.3" height="42.6" rx="0" fill="url(#h2)" stroke="#111" stroke-width="1.24"/>
<rect x="480.9" y="787.7" width="5.0" height="42.6" rx="0" fill="url(#h2)" stroke="#111" stroke-width="1.24"/>
<rect x="364.3" y="831.9" width="127.5" height="9.9" rx="0" fill="#fff" stroke="#111" stroke-width="1.44"/>
<rect x="364.3" y="831.9" width="40.7" height="9.9" rx="0" fill="url(#h3)" stroke="#111" stroke-width="1.34"/>
<rect x="451.0" y="831.1" width="40.8" height="9.9" rx="0" fill="url(#h3)" stroke="#111" stroke-width="1.34"/>
<line x1="405.1" y1="836.8" x2="451.1" y2="836.4" stroke="#111" stroke-width="1.03"/>
<polyline points="385.6,841.6 385.7,847.8 470.9,847.4 470.8,840.8" fill="none" stroke="#111" stroke-width="1.13" stroke-linejoin="miter"/>
<rect x="419.2" y="788.3" width="19.5" height="8.1" rx="0" fill="#fff" stroke="#111" stroke-width="1.34"/>
<rect x="423.5" y="796.3" width="10.1" height="9.2" rx="0" fill="#fff" stroke="#111" stroke-width="1.24"/>
<line x1="426.3" y1="796.3" x2="426.4" y2="805.5" stroke="#111" stroke-width="0.85"/>
<line x1="430.8" y1="796.3" x2="430.9" y2="805.5" stroke="#111" stroke-width="0.85"/>
<rect x="417.2" y="805.6" width="20.2" height="6.4" rx="0" fill="#fff" stroke="#111" stroke-width="1.34"/>
<line x1="421.9" y1="805.6" x2="422.1" y2="812.0" stroke="#111" stroke-width="0.93"/>
<line x1="432.9" y1="805.5" x2="433.1" y2="811.9" stroke="#111" stroke-width="0.93"/>
<rect x="418.5" y="812.0" width="19.6" height="21.2" rx="0" fill="#fff" stroke="#111" stroke-width="1.24"/>
<line x1="420.1" y1="812.0" x2="420.4" y2="833.1" stroke="#111" stroke-width="1.13"/>
<line x1="422.1" y1="812.0" x2="422.4" y2="833.0" stroke="#111" stroke-width="1.13"/>
<line x1="424.1" y1="811.9" x2="424.4" y2="833.0" stroke="#111" stroke-width="1.13"/>
<line x1="433.1" y1="811.9" x2="433.4" y2="833.0" stroke="#111" stroke-width="1.13"/>
<line x1="435.1" y1="811.8" x2="435.4" y2="832.9" stroke="#111" stroke-width="1.13"/>
<line x1="436.9" y1="811.8" x2="437.2" y2="832.9" stroke="#111" stroke-width="1.13"/>
<line x1="426.1" y1="811.9" x2="426.4" y2="833.0" stroke="#111" stroke-width="0.85" stroke-dasharray="3 1.5"/>
<line x1="431.1" y1="811.9" x2="431.4" y2="833.0" stroke="#111" stroke-width="0.85" stroke-dasharray="3 1.5"/>
<line x1="428.4" y1="715.7" x2="428.3" y2="849.2" stroke="#111" stroke-width="0.85" stroke-dasharray="16 2 2 2"/>
</g>
<g transform="translate(583 780) matrix(1 0.0088 -0.0175 1 0 0) translate(-583 -780)">
<path d="M509.76 743.24 Q519.03 724.56 543.95 719.94" fill="none" stroke="#111" stroke-width="1.54" />
<path d="M655.84 742.56 Q646.02 723.95 620.94 719.67" fill="none" stroke="#111" stroke-width="1.54" />
<path d="M536.96 720.41 Q559.06 726.21 582.70 745.50 Q605.05 725.81 628.95 719.90" fill="none" stroke="#111" stroke-width="1.13" />
<rect x="536.9" y="716.5" width="92.1" height="3.5" rx="0" fill="url(#h2)" stroke="#111" stroke-width="1.24"/>
<rect x="536.9" y="716.5" width="92.1" height="3.5" rx="0" fill="rgba(0,0,0,0.25)" stroke="#111" stroke-width="0.00"/>
<path d="M536.37 721.21 Q521.07 727.04 513.75 737.41 Q511.31 740.63 509.98 744.34" fill="none" stroke="#111" stroke-width="1.54" />
<polygon points="524.6,727.5 530.0,725.5 531.2,744.2 525.9,744.2" fill="url(#h2)" stroke="#111" stroke-width="0.93" stroke-linejoin="miter"/>
<polygon points="510.0,744.3 515.2,735.6 518.0,733.6 518.2,744.3" fill="url(#h2)" stroke="#111" stroke-width="0.85" stroke-linejoin="miter"/>
<rect x="518.3" y="727.9" width="7.0" height="17.2" rx="0" fill="#333" stroke="#111" stroke-width="0.85"/>
<line x1="520.6" y1="728.5" x2="520.9" y2="744.5" stroke="#ccc" stroke-width="0.85"/>
<line x1="523.1" y1="728.5" x2="523.4" y2="744.5" stroke="#ccc" stroke-width="0.85"/>
<line x1="510.0" y1="744.3" x2="536.8" y2="744.1" stroke="#111" stroke-width="1.03"/>
<path d="M513.49 745.11 A8.6 9.5 0.0 0 0 530.69 744.96" fill="none" stroke="#111" stroke-width="1.44" stroke-dasharray="3.5 1.2" />
<path d="M516.09 745.09 A6.0 6.8 0.0 0 0 528.09 744.98" fill="none" stroke="#111" stroke-width="1.24" stroke-dasharray="3 1.2" />
<line x1="511.5" y1="755.5" x2="536.6" y2="755.3" stroke="#111" stroke-width="1.34"/>
<line x1="529.0" y1="724.7" x2="551.4" y2="742.3" stroke="#111" stroke-width="1.13"/>
<polygon points="612.2,743.4 630.4,731.8 639.1,727.0 647.2,732.4 649.8,740.4 645.4,744.0 637.4,744.0 635.2,747.8 629.6,754.8 626.4,771.0 612.6,771.1" fill="url(#h3)" stroke="#111" stroke-width="1.34" stroke-linejoin="miter"/>
<rect x="636.6" y="726.8" width="7.0" height="17.2" rx="0" fill="#333" stroke="#111" stroke-width="0.85"/>
<line x1="638.9" y1="727.5" x2="639.2" y2="743.5" stroke="#ccc" stroke-width="0.85"/>
<line x1="641.4" y1="727.5" x2="641.7" y2="743.5" stroke="#ccc" stroke-width="0.85"/>
<path d="M631.97 744.07 A8.6 9.5 0.0 0 0 649.17 743.92" fill="none" stroke="#111" stroke-width="1.44" stroke-dasharray="3.5 1.2" />
<path d="M634.57 744.05 A6.0 6.8 0.0 0 0 646.57 743.94" fill="none" stroke="#111" stroke-width="1.24" stroke-dasharray="3 1.2" />
<line x1="629.5" y1="754.1" x2="657.5" y2="754.1" stroke="#111" stroke-width="1.24"/>
<line x1="650.4" y1="743.4" x2="655.8" y2="742.6" stroke="#111" stroke-width="1.24"/>
<rect x="535.8" y="720.4" width="16.6" height="50.2" rx="7.5" fill="#fff" stroke="#111" stroke-width="1.44"/>
<circle cx="544.0" cy="728.4" r="6.2" fill="#fff" stroke="#111" stroke-width="1.44"/>
<circle cx="544.0" cy="728.4" r="4.2" fill="#2a2a2a" stroke="#111" stroke-width="1.03"/>
<line x1="542.0" y1="727.0" x2="546.0" y2="726.9" stroke="#ddd" stroke-width="0.85"/>
<line x1="542.0" y1="730.0" x2="546.0" y2="729.9" stroke="#ddd" stroke-width="0.85"/>
<line x1="535.5" y1="728.5" x2="552.5" y2="728.4" stroke="#111" stroke-width="0.85"/>
<line x1="543.8" y1="719.9" x2="544.1" y2="736.9" stroke="#111" stroke-width="0.85"/>
<circle cx="544.6" cy="762.5" r="6.2" fill="#fff" stroke="#111" stroke-width="1.44"/>
<circle cx="544.6" cy="762.5" r="4.2" fill="#2a2a2a" stroke="#111" stroke-width="1.03"/>
<line x1="542.6" y1="761.1" x2="546.6" y2="761.0" stroke="#ddd" stroke-width="0.85"/>
<line x1="542.6" y1="764.1" x2="546.6" y2="764.0" stroke="#ddd" stroke-width="0.85"/>
<line x1="536.1" y1="762.6" x2="553.1" y2="762.5" stroke="#111" stroke-width="0.85"/>
<line x1="544.4" y1="754.0" x2="544.7" y2="771.0" stroke="#111" stroke-width="0.85"/>
<circle cx="621.1" cy="727.8" r="6.2" fill="#fff" stroke="#111" stroke-width="1.44"/>
<circle cx="621.1" cy="727.8" r="4.2" fill="#2a2a2a" stroke="#111" stroke-width="1.03"/>
<line x1="619.1" y1="726.3" x2="623.1" y2="726.2" stroke="#ddd" stroke-width="0.85"/>
<line x1="619.1" y1="729.3" x2="623.1" y2="729.2" stroke="#ddd" stroke-width="0.85"/>
<line x1="612.6" y1="727.8" x2="629.6" y2="727.7" stroke="#111" stroke-width="0.85"/>
<line x1="620.9" y1="719.3" x2="621.2" y2="736.3" stroke="#111" stroke-width="0.85"/>
<circle cx="620.6" cy="764.2" r="6.2" fill="#fff" stroke="#111" stroke-width="1.44"/>
<circle cx="620.6" cy="764.2" r="4.2" fill="#2a2a2a" stroke="#111" stroke-width="1.03"/>
<line x1="618.6" y1="762.7" x2="622.6" y2="762.7" stroke="#ddd" stroke-width="0.85"/>
<line x1="618.6" y1="765.7" x2="622.6" y2="765.7" stroke="#ddd" stroke-width="0.85"/>
<line x1="612.1" y1="764.2" x2="629.1" y2="764.1" stroke="#111" stroke-width="0.85"/>
<line x1="620.5" y1="755.7" x2="620.8" y2="772.7" stroke="#111" stroke-width="0.85"/>
<line x1="544.1" y1="736.3" x2="544.5" y2="754.3" stroke="#111" stroke-width="0.85" stroke-dasharray="6 1.5 1.5 1.5"/>
<polyline points="552.0,723.3 575.2,734.6" fill="none" stroke="#111" stroke-width="1.34" stroke-linejoin="miter"/>
<polyline points="613.0,723.0 591.3,734.4" fill="none" stroke="#111" stroke-width="1.34" stroke-linejoin="miter"/>
<polygon points="554.3,731.4 573.1,745.0 554.6,745.2" fill="url(#h3b)" stroke="#111" stroke-width="1.13" stroke-linejoin="miter"/>
<polyline points="610.1,731.2 591.9,744.9 596.4,744.9" fill="none" stroke="#111" stroke-width="1.13" stroke-linejoin="miter"/>
<rect x="570.0" y="725.9" width="24.6" height="35.2" rx="0" fill="none" stroke="#111" stroke-width="1.24"/>
<line x1="573.1" y1="726.1" x2="573.5" y2="749.1" stroke="#111" stroke-width="0.85" stroke-dasharray="3 1.5"/>
<line x1="591.6" y1="725.9" x2="592.0" y2="748.9" stroke="#111" stroke-width="0.85" stroke-dasharray="3 1.5"/>
<rect x="574.0" y="734.6" width="19.6" height="10.4" rx="5.2" fill="#fff" stroke="#111" stroke-width="1.44"/>
<circle cx="580.8" cy="739.6" r="4.3" fill="#fff" stroke="#111" stroke-width="1.34"/>
<circle cx="580.8" cy="739.6" r="2.4" fill="url(#xh)" stroke="#111" stroke-width="0.85"/>
<line x1="571.3" y1="739.7" x2="596.3" y2="739.5" stroke="#111" stroke-width="0.85"/>
<rect x="570.4" y="749.6" width="24.6" height="3.9" rx="0" fill="url(#h2)" stroke="#111" stroke-width="1.03"/>
<rect x="569.7" y="753.5" width="26.0" height="7.6" rx="0" fill="#fff" stroke="#111" stroke-width="1.24"/>
<line x1="569.8" y1="756.6" x2="595.8" y2="756.4" stroke="#111" stroke-width="1.03"/>
<rect x="573.4" y="761.1" width="19.5" height="19.6" rx="0" fill="url(#h2)" stroke="#111" stroke-width="1.24"/>
<rect x="578.0" y="761.0" width="10.3" height="15.0" rx="0" fill="#fff" stroke="#111" stroke-width="1.03"/>
<line x1="580.2" y1="761.0" x2="580.4" y2="776.0" stroke="#111" stroke-width="0.93"/>
<line x1="583.0" y1="761.0" x2="583.2" y2="776.0" stroke="#111" stroke-width="0.93"/>
<line x1="585.9" y1="761.0" x2="586.1" y2="776.0" stroke="#111" stroke-width="0.93"/>
<rect x="578.2" y="776.0" width="10.3" height="4.6" rx="0" fill="url(#h2b)" stroke="#111" stroke-width="0.93"/>
<polyline points="556.4,742.8 557.0,774.3" fill="none" stroke="#111" stroke-width="1.24" stroke-linejoin="miter"/>
<polyline points="609.3,742.4 609.9,773.9" fill="none" stroke="#111" stroke-width="1.24" stroke-linejoin="miter"/>
<line x1="553.1" y1="765.3" x2="556.8" y2="765.2" stroke="#111" stroke-width="1.03"/>
<polygon points="536.3,774.5 554.7,774.3 555.0,788.8 567.1,797.9 567.3,807.1 536.9,807.4" fill="url(#h5)" stroke="#111" stroke-width="1.44" stroke-linejoin="miter"/>
<polygon points="627.7,773.9 612.7,774.0 612.9,788.5 601.6,797.8 601.8,807.0 628.3,806.8" fill="url(#h5)" stroke="#111" stroke-width="1.44" stroke-linejoin="miter"/>
<line x1="567.3" y1="807.1" x2="601.8" y2="807.0" stroke="#111" stroke-width="1.44"/>
<line x1="555.0" y1="788.8" x2="573.9" y2="788.7" stroke="#111" stroke-width="1.03"/>
<line x1="592.3" y1="788.6" x2="612.9" y2="788.5" stroke="#111" stroke-width="1.03"/>
<path d="M567.20 803.14 L569.35 800.12 L572.31 797.89 L594.81 797.70 L598.35 799.86 L601.70 802.84" fill="none" stroke="#111" stroke-width="1.13" />
<path d="M572.31 797.89 Q583.26 795.00 594.81 797.70" fill="none" stroke="#111" stroke-width="0.93" />
<rect x="573.7" y="780.7" width="18.4" height="17.2" rx="0" fill="#fff" stroke="#111" stroke-width="1.34"/>
<polyline points="553.4,807.3 553.5,814.3 613.4,814.0 613.3,806.9" fill="none" stroke="#111" stroke-width="1.34" stroke-linejoin="miter"/>
<polyline points="558.2,814.2 558.3,822.2 608.9,822.1 608.8,814.1" fill="none" stroke="#111" stroke-width="1.34" stroke-linejoin="miter"/>
<polyline points="561.0,822.2 561.5,847.5" fill="none" stroke="#111" stroke-width="1.34" stroke-linejoin="miter"/>
<polyline points="606.6,822.1 607.1,847.3" fill="none" stroke="#111" stroke-width="1.34" stroke-linejoin="miter"/>
<path d="M561.48 847.49 Q573.15 845.59 584.18 847.29 Q595.21 848.89 607.08 847.29" fill="none" stroke="#111" stroke-width="0.93" />
<line x1="529.5" y1="754.6" x2="529.7" y2="808.7" stroke="#111" stroke-width="1.03"/>
<line x1="532.2" y1="754.5" x2="532.5" y2="808.6" stroke="#111" stroke-width="0.85"/>
<line x1="632.0" y1="754.4" x2="632.3" y2="808.0" stroke="#111" stroke-width="1.03"/>
<line x1="634.5" y1="754.3" x2="634.8" y2="807.9" stroke="#111" stroke-width="0.85"/>
<line x1="583.3" y1="713.8" x2="583.3" y2="849.6" stroke="#111" stroke-width="0.85" stroke-dasharray="16 2 2 2"/>
</g>
</svg>
</body></html>
